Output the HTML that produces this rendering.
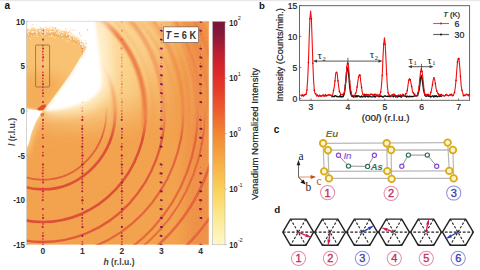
<!DOCTYPE html>
<html><head><meta charset="utf-8"><style>
html,body{margin:0;padding:0;background:#fff;width:480px;height:270px;overflow:hidden;}
svg{display:block;}
</style></head><body>
<svg width="480" height="270" viewBox="0 0 480 270">
<defs><clipPath id="hm"><rect x="26.5" y="21.3" width="182.30" height="223.50"/></clipPath><filter id="b6" x="-50%" y="-50%" width="200%" height="200%"><feGaussianBlur stdDeviation="6"/></filter><filter id="b3" x="-50%" y="-50%" width="200%" height="200%"><feGaussianBlur stdDeviation="3"/></filter><filter id="b15" x="-50%" y="-50%" width="200%" height="200%"><feGaussianBlur stdDeviation="15"/></filter><filter id="b05" x="-50%" y="-50%" width="200%" height="200%"><feGaussianBlur stdDeviation="0.5"/></filter><filter id="b15w" x="-50%" y="-50%" width="200%" height="200%"><feGaussianBlur stdDeviation="1.6"/></filter><filter id="b1" x="-50%" y="-50%" width="200%" height="200%"><feGaussianBlur stdDeviation="1"/></filter><filter id="b07" x="-50%" y="-50%" width="200%" height="200%"><feGaussianBlur stdDeviation="0.6"/></filter><linearGradient id="cb" x1="0" y1="0" x2="0" y2="1"><stop offset="0" stop-color="#781636"/><stop offset="0.06" stop-color="#881a38"/><stop offset="0.15" stop-color="#c02030"/><stop offset="0.22" stop-color="#dc2628"/><stop offset="0.3" stop-color="#e63a2a"/><stop offset="0.4" stop-color="#ee5c30"/><stop offset="0.5" stop-color="#f28634"/><stop offset="0.62" stop-color="#f6aa44"/><stop offset="0.75" stop-color="#fbd05a"/><stop offset="0.87" stop-color="#fde88e"/><stop offset="1" stop-color="#fff8cc"/></linearGradient></defs>
<g clip-path="url(#hm)">
<rect x="26.5" y="21.3" width="182.30" height="223.50" fill="#f3a24c"/>
<rect x="185" y="10" width="40" height="250" fill="#ea7c40" opacity="0.45" filter="url(#b6)"/>
<g filter="url(#b15)"><path d="M42.9,111.0 L92,10 L168,10 L156,60 L136,102 L95,118 L55,118 Z" fill="#fad088"/></g>
<g filter="url(#b6)"><path d="M44.9,111.0 L90,16 L118,16 L124,60 L114,96 L88,112 L50,114 Z" fill="#fde6b0"/></g>
<linearGradient id="gup" x1="0" y1="21" x2="0" y2="140" gradientUnits="userSpaceOnUse"><stop offset="0" stop-color="#fcd894" stop-opacity="0.92"/><stop offset="0.6" stop-color="#fbd48c" stop-opacity="0.72"/><stop offset="1" stop-color="#f8c47c" stop-opacity="0"/></linearGradient>
<linearGradient id="gupx" x1="40" y1="0" x2="209" y2="0" gradientUnits="userSpaceOnUse"><stop offset="0" stop-color="#fff"/><stop offset="0.45" stop-color="#fff"/><stop offset="0.85" stop-color="#000"/></linearGradient><mask id="mupx" maskUnits="userSpaceOnUse" x="0" y="0" width="480" height="270"><rect x="0" y="0" width="240" height="270" fill="url(#gupx)"/></mask>
<rect x="26" y="21" width="183" height="120" fill="url(#gup)" mask="url(#mupx)"/>
<g filter="url(#b3)"><path d="M43,112 L24,108 L24,160 L30,146 L34,132 L38,122 Z" fill="#fcd898"/></g>
<filter id="grain" x="0" y="0" width="100%" height="100%"><feTurbulence type="fractalNoise" baseFrequency="0.55" numOctaves="2" seed="4" result="n"/><feColorMatrix in="n" type="matrix" values="0 0 0 0 0.93  0 0 0 0 0.45  0 0 0 0 0.2  1.2 0 0 0 -0.45"/></filter>
<rect x="26.5" y="21.3" width="182.30" height="223.50" filter="url(#grain)" opacity="0.35"/>
<linearGradient id="gtop" x1="0" y1="21" x2="0" y2="245" gradientUnits="userSpaceOnUse"><stop offset="0" stop-color="#fff"/><stop offset="0.38" stop-color="#fff"/><stop offset="0.52" stop-color="#000"/></linearGradient><linearGradient id="gbot" x1="0" y1="21" x2="0" y2="245" gradientUnits="userSpaceOnUse"><stop offset="0.38" stop-color="#000"/><stop offset="0.52" stop-color="#fff"/></linearGradient><mask id="mtop" maskUnits="userSpaceOnUse" x="0" y="0" width="480" height="270"><rect x="0" y="0" width="240" height="270" fill="url(#gtop)"/></mask><mask id="mbot" maskUnits="userSpaceOnUse" x="0" y="0" width="480" height="270"><rect x="0" y="0" width="240" height="270" fill="url(#gbot)"/></mask>
<g mask="url(#mbot)"><g filter="url(#b05)">
<ellipse cx="42.9" cy="111.0" rx="63.5" ry="68.8" fill="none" stroke="#dc4c36" stroke-width="1.8" stroke-opacity="0.75"/>
<ellipse cx="42.9" cy="111.0" rx="72.5" ry="78.4" fill="none" stroke="#dc4c36" stroke-width="2.7" stroke-opacity="0.95"/>
<ellipse cx="42.9" cy="111.0" rx="103" ry="111" fill="none" stroke="#dc4c36" stroke-width="2.6" stroke-opacity="0.95"/>
<ellipse cx="42.9" cy="111.0" rx="122" ry="131" fill="none" stroke="#dc4c36" stroke-width="2.3" stroke-opacity="0.85"/>
<ellipse cx="42.9" cy="111.0" rx="140.6" ry="145.6" fill="none" stroke="#dc4c36" stroke-width="2.2" stroke-opacity="0.7"/>
<ellipse cx="42.9" cy="111.0" rx="155" ry="166" fill="none" stroke="#dc4c36" stroke-width="2.2" stroke-opacity="0.65"/>
<ellipse cx="42.9" cy="111.0" rx="162" ry="172" fill="none" stroke="#dc4c36" stroke-width="2.0" stroke-opacity="0.6"/>
<ellipse cx="42.9" cy="111.0" rx="175" ry="178" fill="none" stroke="#dc4c36" stroke-width="2.6" stroke-opacity="0.65"/>
<ellipse cx="42.9" cy="111.0" rx="200" ry="193.6" fill="none" stroke="#dc4c36" stroke-width="2.6" stroke-opacity="0.6"/>
</g></g>
<g mask="url(#mtop)"><g filter="url(#b1)">
<ellipse cx="42.9" cy="111.0" rx="72" ry="78.4" fill="none" stroke="#ec7a40" stroke-width="3.6" stroke-opacity="0.45"/>
<ellipse cx="42.9" cy="111.0" rx="102" ry="111" fill="none" stroke="#ec7a40" stroke-width="4.6" stroke-opacity="0.95"/>
<ellipse cx="42.9" cy="111.0" rx="121" ry="131" fill="none" stroke="#ec7a40" stroke-width="4.0" stroke-opacity="0.7"/>
<ellipse cx="42.9" cy="111.0" rx="140.6" ry="145.6" fill="none" stroke="#ec7a40" stroke-width="3.5" stroke-opacity="0.45"/>
<ellipse cx="42.9" cy="111.0" rx="157" ry="167.4" fill="none" stroke="#ec7a40" stroke-width="3.5" stroke-opacity="0.5"/>
<ellipse cx="42.9" cy="111.0" rx="175" ry="178" fill="none" stroke="#ec7a40" stroke-width="3.5" stroke-opacity="0.45"/>
<ellipse cx="42.9" cy="111.0" rx="188" ry="186" fill="none" stroke="#ec7a40" stroke-width="3.0" stroke-opacity="0.45"/>
<ellipse cx="42.9" cy="111.0" rx="123.1" ry="123.7" fill="none" stroke="#ea7a40" stroke-width="1.1" stroke-opacity="0.32"/>
<ellipse cx="42.9" cy="111.0" rx="213.9" ry="225.6" fill="none" stroke="#ea7a40" stroke-width="1.3" stroke-opacity="0.25"/>
<ellipse cx="42.9" cy="111.0" rx="131.0" ry="124.7" fill="none" stroke="#fbd49a" stroke-width="1.7" stroke-opacity="0.24"/>
<ellipse cx="42.9" cy="111.0" rx="120.9" ry="129.4" fill="none" stroke="#fbd49a" stroke-width="1.5" stroke-opacity="0.24"/>
<ellipse cx="42.9" cy="111.0" rx="214.5" ry="220.9" fill="none" stroke="#ea7a40" stroke-width="0.8" stroke-opacity="0.22"/>
<ellipse cx="42.9" cy="111.0" rx="159.7" ry="165.2" fill="none" stroke="#fbd49a" stroke-width="1.7" stroke-opacity="0.15"/>
<ellipse cx="42.9" cy="111.0" rx="186.5" ry="180.2" fill="none" stroke="#fbd49a" stroke-width="1.7" stroke-opacity="0.24"/>
<ellipse cx="42.9" cy="111.0" rx="165.7" ry="166.1" fill="none" stroke="#ea7a40" stroke-width="1.0" stroke-opacity="0.28"/>
<ellipse cx="42.9" cy="111.0" rx="156.7" ry="150.4" fill="none" stroke="#fbd49a" stroke-width="1.0" stroke-opacity="0.28"/>
<ellipse cx="42.9" cy="111.0" rx="193.3" ry="202.6" fill="none" stroke="#ea7a40" stroke-width="1.6" stroke-opacity="0.27"/>
<ellipse cx="42.9" cy="111.0" rx="185.3" ry="189.5" fill="none" stroke="#fbd49a" stroke-width="1.4" stroke-opacity="0.23"/>
<ellipse cx="42.9" cy="111.0" rx="142.5" ry="151.9" fill="none" stroke="#fbd49a" stroke-width="1.2" stroke-opacity="0.22"/>
<ellipse cx="42.9" cy="111.0" rx="154.6" ry="153.3" fill="none" stroke="#ea7a40" stroke-width="1.3" stroke-opacity="0.20"/>
<ellipse cx="42.9" cy="111.0" rx="196.8" ry="205.3" fill="none" stroke="#fbd49a" stroke-width="1.8" stroke-opacity="0.25"/>
<ellipse cx="42.9" cy="111.0" rx="159.1" ry="163.5" fill="none" stroke="#ea7a40" stroke-width="1.3" stroke-opacity="0.26"/>
<ellipse cx="42.9" cy="111.0" rx="140.1" ry="135.1" fill="none" stroke="#ea7a40" stroke-width="1.5" stroke-opacity="0.28"/>
<ellipse cx="42.9" cy="111.0" rx="196.7" ry="195.7" fill="none" stroke="#ea7a40" stroke-width="1.4" stroke-opacity="0.21"/>
<ellipse cx="42.9" cy="111.0" rx="116.4" ry="124.5" fill="none" stroke="#fbd49a" stroke-width="1.0" stroke-opacity="0.24"/>
<ellipse cx="42.9" cy="111.0" rx="122.6" ry="127.2" fill="none" stroke="#fbd49a" stroke-width="1.7" stroke-opacity="0.34"/>
<ellipse cx="42.9" cy="111.0" rx="149.8" ry="161.0" fill="none" stroke="#fbd49a" stroke-width="1.4" stroke-opacity="0.33"/>
<ellipse cx="42.9" cy="111.0" rx="159.0" ry="164.8" fill="none" stroke="#ea7a40" stroke-width="1.7" stroke-opacity="0.20"/>
<ellipse cx="42.9" cy="111.0" rx="166.8" ry="175.9" fill="none" stroke="#ea7a40" stroke-width="1.6" stroke-opacity="0.25"/>
<ellipse cx="42.9" cy="111.0" rx="197.1" ry="209.1" fill="none" stroke="#fbd49a" stroke-width="1.5" stroke-opacity="0.16"/>
<ellipse cx="42.9" cy="111.0" rx="132.3" ry="126.9" fill="none" stroke="#ea7a40" stroke-width="1.1" stroke-opacity="0.33"/>
<ellipse cx="42.9" cy="111.0" rx="213.2" ry="222.7" fill="none" stroke="#ea7a40" stroke-width="0.8" stroke-opacity="0.18"/>
<ellipse cx="42.9" cy="111.0" rx="176.5" ry="178.7" fill="none" stroke="#ea7a40" stroke-width="1.8" stroke-opacity="0.33"/>
<ellipse cx="42.9" cy="111.0" rx="110" ry="118" fill="none" stroke="#ec7a40" stroke-width="2.5" stroke-opacity="0.15"/>
<ellipse cx="42.9" cy="111.0" rx="130" ry="137" fill="none" stroke="#ec7a40" stroke-width="2.5" stroke-opacity="0.15"/>
<ellipse cx="42.9" cy="111.0" rx="166" ry="172" fill="none" stroke="#ec7a40" stroke-width="2.5" stroke-opacity="0.2"/>
<ellipse cx="42.9" cy="111.0" rx="198" ry="192" fill="none" stroke="#ec7a40" stroke-width="2.5" stroke-opacity="0.3"/>
</g></g>
<g filter="url(#b6)"><path d="M44,111 L57,93 L70,75 L86.5,47.5 L92,16 L106,16 Q112,50 111,80 Q107,98 90,106 Q70,112 46,112 Z" fill="#fff0d0"/></g>
<clipPath id="sec"><path d="M43.5,110.3 L26,106.7 L26,30.5 L40,29.6 L56,30 L69,32.7 L78,39 L86.5,47.5 L69.6,75 L56.6,93 Z"/></clipPath>
<g clip-path="url(#sec)">
<rect x="20" y="20" width="80" height="95" fill="#f8c272"/>
<path d="M20,118 L20,75 Q45,68 68,80 L45,114 Z" fill="#f4ae5a" filter="url(#b6)"/>
<path d="M26,33 L40,32.2 L56,32.6 L69,35.3 L78,41.6 L86.5,50 L86.5,53 L78,45 L69,38.5 L56,36 L40,35.5 L26,36.5 Z" fill="#f3aa56" opacity="0.7" filter="url(#b07)"/>
</g>
<ellipse cx="42.9" cy="244.8" rx="1.09" ry="1.15" fill="#cc2840" fill-opacity="1.0"/>
<ellipse cx="42.9" cy="241.8" rx="0.85" ry="0.90" fill="#dc3440" fill-opacity="1.0"/>
<ellipse cx="42.9" cy="238.9" rx="0.85" ry="0.90" fill="#dc3440" fill-opacity="1.0"/>
<ellipse cx="42.9" cy="235.9" rx="1.09" ry="1.15" fill="#cc2840" fill-opacity="1.0"/>
<ellipse cx="43.0" cy="232.9" rx="0.85" ry="0.90" fill="#dc3440" fill-opacity="1.0"/>
<ellipse cx="42.7" cy="227.0" rx="1.09" ry="1.15" fill="#cc2840" fill-opacity="1.0"/>
<ellipse cx="43.0" cy="224.0" rx="0.85" ry="0.90" fill="#dc3440" fill-opacity="1.0"/>
<ellipse cx="43.1" cy="218.0" rx="1.09" ry="1.15" fill="#cc2840" fill-opacity="1.0"/>
<ellipse cx="42.9" cy="215.1" rx="0.85" ry="0.90" fill="#dc3440" fill-opacity="1.0"/>
<ellipse cx="42.9" cy="209.1" rx="1.09" ry="1.15" fill="#cc2840" fill-opacity="1.0"/>
<ellipse cx="42.7" cy="200.2" rx="1.09" ry="1.15" fill="#cc2840" fill-opacity="1.0"/>
<ellipse cx="42.9" cy="197.2" rx="0.85" ry="0.90" fill="#dc3440" fill-opacity="1.0"/>
<ellipse cx="42.9" cy="194.3" rx="0.85" ry="0.90" fill="#dc3440" fill-opacity="1.0"/>
<ellipse cx="42.9" cy="191.3" rx="1.09" ry="1.15" fill="#cc2840" fill-opacity="1.0"/>
<ellipse cx="42.9" cy="188.3" rx="0.85" ry="0.90" fill="#dc3440" fill-opacity="1.0"/>
<ellipse cx="43.1" cy="182.4" rx="1.09" ry="1.15" fill="#cc2840" fill-opacity="1.0"/>
<ellipse cx="43.0" cy="179.4" rx="0.85" ry="0.90" fill="#dc3440" fill-opacity="1.0"/>
<ellipse cx="42.8" cy="176.4" rx="0.85" ry="0.90" fill="#dc3440" fill-opacity="1.0"/>
<ellipse cx="42.7" cy="173.4" rx="1.09" ry="1.15" fill="#cc2840" fill-opacity="1.0"/>
<ellipse cx="42.9" cy="170.5" rx="0.85" ry="0.90" fill="#dc3440" fill-opacity="1.0"/>
<ellipse cx="42.9" cy="167.5" rx="0.85" ry="0.90" fill="#dc3440" fill-opacity="1.0"/>
<ellipse cx="43.0" cy="164.5" rx="1.09" ry="1.15" fill="#cc2840" fill-opacity="1.0"/>
<ellipse cx="42.9" cy="155.6" rx="1.09" ry="1.15" fill="#cc2840" fill-opacity="1.0"/>
<ellipse cx="42.9" cy="152.6" rx="0.85" ry="0.90" fill="#dc3440" fill-opacity="1.0"/>
<ellipse cx="43.0" cy="146.7" rx="1.09" ry="1.15" fill="#cc2840" fill-opacity="1.0"/>
<ellipse cx="43.1" cy="137.8" rx="1.09" ry="1.15" fill="#cc2840" fill-opacity="1.0"/>
<ellipse cx="42.7" cy="134.8" rx="0.85" ry="0.90" fill="#dc3440" fill-opacity="1.0"/>
<ellipse cx="42.7" cy="128.8" rx="1.09" ry="1.15" fill="#cc2840" fill-opacity="1.0"/>
<ellipse cx="42.8" cy="125.9" rx="0.85" ry="0.90" fill="#dc3440" fill-opacity="1.0"/>
<ellipse cx="42.9" cy="122.9" rx="0.85" ry="0.90" fill="#dc3440" fill-opacity="1.0"/>
<ellipse cx="43.0" cy="119.9" rx="1.09" ry="1.15" fill="#cc2840" fill-opacity="1.0"/>
<ellipse cx="43.0" cy="102.1" rx="1.09" ry="1.15" fill="#cc2840" fill-opacity="1.0"/>
<ellipse cx="42.8" cy="96.1" rx="0.85" ry="0.90" fill="#dc3440" fill-opacity="1.0"/>
<ellipse cx="43.1" cy="93.2" rx="1.09" ry="1.15" fill="#cc2840" fill-opacity="1.0"/>
<ellipse cx="42.8" cy="90.2" rx="0.85" ry="0.90" fill="#dc3440" fill-opacity="1.0"/>
<ellipse cx="42.8" cy="87.2" rx="0.85" ry="0.90" fill="#dc3440" fill-opacity="1.0"/>
<ellipse cx="43.0" cy="84.2" rx="1.09" ry="1.15" fill="#cc2840" fill-opacity="1.0"/>
<ellipse cx="42.7" cy="81.3" rx="0.85" ry="0.90" fill="#dc3440" fill-opacity="1.0"/>
<ellipse cx="42.8" cy="78.3" rx="0.85" ry="0.90" fill="#dc3440" fill-opacity="1.0"/>
<ellipse cx="43.0" cy="75.3" rx="1.09" ry="1.15" fill="#cc2840" fill-opacity="1.0"/>
<ellipse cx="42.8" cy="72.3" rx="0.85" ry="0.90" fill="#dc3440" fill-opacity="1.0"/>
<ellipse cx="42.9" cy="66.4" rx="1.09" ry="1.15" fill="#cc2840" fill-opacity="1.0"/>
<ellipse cx="42.8" cy="60.5" rx="0.85" ry="0.90" fill="#dc3440" fill-opacity="1.0"/>
<ellipse cx="43.1" cy="57.5" rx="1.09" ry="1.15" fill="#cc2840" fill-opacity="1.0"/>
<ellipse cx="42.9" cy="54.5" rx="0.85" ry="0.90" fill="#dc3440" fill-opacity="1.0"/>
<ellipse cx="42.8" cy="51.5" rx="0.85" ry="0.90" fill="#dc3440" fill-opacity="1.0"/>
<ellipse cx="43.1" cy="48.6" rx="1.09" ry="1.15" fill="#cc2840" fill-opacity="1.0"/>
<ellipse cx="42.8" cy="45.6" rx="0.85" ry="0.90" fill="#dc3440" fill-opacity="1.0"/>
<ellipse cx="43.1" cy="39.6" rx="1.09" ry="1.15" fill="#cc2840" fill-opacity="1.0"/>
<ellipse cx="43.1" cy="33.7" rx="0.85" ry="0.90" fill="#dc3440" fill-opacity="1.0"/>
<ellipse cx="42.9" cy="30.7" rx="1.09" ry="1.15" fill="#cc2840" fill-opacity="1.0"/>
<ellipse cx="42.8" cy="21.8" rx="1.09" ry="1.15" fill="#cc2840" fill-opacity="1.0"/>
<ellipse cx="82.3" cy="244.8" rx="1.15" ry="1.21" fill="#b82448" fill-opacity="1.0"/>
<ellipse cx="82.4" cy="241.8" rx="0.87" ry="0.91" fill="#d03640" fill-opacity="1.0"/>
<ellipse cx="82.4" cy="235.9" rx="1.00" ry="1.05" fill="#9a1a4c" fill-opacity="1.0"/>
<ellipse cx="82.5" cy="227.0" rx="1.11" ry="1.17" fill="#b82448" fill-opacity="1.0"/>
<ellipse cx="82.3" cy="224.0" rx="0.83" ry="0.87" fill="#d03640" fill-opacity="1.0"/>
<ellipse cx="82.2" cy="221.0" rx="0.89" ry="0.93" fill="#d03640" fill-opacity="1.0"/>
<ellipse cx="82.3" cy="218.0" rx="0.95" ry="1.00" fill="#9a1a4c" fill-opacity="1.0"/>
<ellipse cx="82.2" cy="215.1" rx="0.80" ry="0.84" fill="#d03640" fill-opacity="1.0"/>
<ellipse cx="82.4" cy="209.1" rx="1.06" ry="1.11" fill="#9a1a4c" fill-opacity="1.0"/>
<ellipse cx="82.5" cy="203.2" rx="0.78" ry="0.82" fill="#d03640" fill-opacity="1.0"/>
<ellipse cx="82.4" cy="200.2" rx="1.23" ry="1.29" fill="#b82448" fill-opacity="1.0"/>
<ellipse cx="82.4" cy="197.2" rx="0.84" ry="0.89" fill="#d03640" fill-opacity="1.0"/>
<ellipse cx="82.2" cy="191.3" rx="0.96" ry="1.01" fill="#9a1a4c" fill-opacity="1.0"/>
<ellipse cx="82.4" cy="188.3" rx="0.89" ry="0.93" fill="#d03640" fill-opacity="1.0"/>
<ellipse cx="82.2" cy="185.3" rx="0.90" ry="0.94" fill="#d03640" fill-opacity="1.0"/>
<ellipse cx="82.3" cy="182.4" rx="1.13" ry="1.19" fill="#b82448" fill-opacity="1.0"/>
<ellipse cx="82.3" cy="179.4" rx="0.85" ry="0.90" fill="#d03640" fill-opacity="1.0"/>
<ellipse cx="82.2" cy="176.4" rx="0.90" ry="0.95" fill="#d03640" fill-opacity="1.0"/>
<ellipse cx="82.4" cy="173.4" rx="1.11" ry="1.16" fill="#b82448" fill-opacity="1.0"/>
<ellipse cx="82.4" cy="170.5" rx="0.88" ry="0.93" fill="#d03640" fill-opacity="1.0"/>
<ellipse cx="82.5" cy="167.5" rx="0.85" ry="0.89" fill="#d03640" fill-opacity="1.0"/>
<ellipse cx="82.3" cy="164.5" rx="1.21" ry="1.27" fill="#b82448" fill-opacity="1.0"/>
<ellipse cx="82.5" cy="161.5" rx="0.84" ry="0.89" fill="#d03640" fill-opacity="1.0"/>
<ellipse cx="82.3" cy="158.6" rx="0.88" ry="0.92" fill="#d03640" fill-opacity="1.0"/>
<ellipse cx="82.5" cy="155.6" rx="1.18" ry="1.24" fill="#b82448" fill-opacity="1.0"/>
<ellipse cx="82.4" cy="152.6" rx="0.82" ry="0.86" fill="#d03640" fill-opacity="1.0"/>
<ellipse cx="82.4" cy="149.7" rx="0.79" ry="0.83" fill="#d03640" fill-opacity="1.0"/>
<ellipse cx="82.2" cy="146.7" rx="1.12" ry="1.18" fill="#b82448" fill-opacity="1.0"/>
<ellipse cx="82.5" cy="143.7" rx="0.83" ry="0.88" fill="#d03640" fill-opacity="1.0"/>
<ellipse cx="82.4" cy="140.7" rx="0.88" ry="0.93" fill="#d03640" fill-opacity="1.0"/>
<ellipse cx="82.4" cy="137.8" rx="1.06" ry="1.12" fill="#9a1a4c" fill-opacity="1.0"/>
<ellipse cx="82.3" cy="134.8" rx="0.82" ry="0.87" fill="#d03640" fill-opacity="1.0"/>
<ellipse cx="82.2" cy="131.8" rx="0.87" ry="0.92" fill="#d03640" fill-opacity="1.0"/>
<ellipse cx="82.2" cy="128.8" rx="1.16" ry="1.23" fill="#b82448" fill-opacity="1.0"/>
<ellipse cx="82.3" cy="125.9" rx="0.83" ry="0.87" fill="#d03640" fill-opacity="1.0"/>
<ellipse cx="82.3" cy="119.9" rx="1.15" ry="1.21" fill="#b82448" fill-opacity="1.0"/>
<ellipse cx="82.5" cy="116.9" rx="0.83" ry="0.87" fill="#d03640" fill-opacity="1.0"/>
<ellipse cx="82.3" cy="111.0" rx="0.95" ry="1.00" fill="#e05a40" fill-opacity="0.55"/>
<ellipse cx="82.2" cy="108.0" rx="0.84" ry="0.89" fill="#e05a40" fill-opacity="0.4"/>
<ellipse cx="82.4" cy="102.1" rx="1.21" ry="1.27" fill="#e05a40" fill-opacity="0.55"/>
<ellipse cx="82.5" cy="99.1" rx="0.80" ry="0.84" fill="#e05a40" fill-opacity="0.4"/>
<ellipse cx="82.4" cy="96.1" rx="0.77" ry="0.82" fill="#e05a40" fill-opacity="0.4"/>
<ellipse cx="82.3" cy="93.2" rx="1.01" ry="1.06" fill="#e05a40" fill-opacity="0.55"/>
<ellipse cx="82.5" cy="90.2" rx="0.87" ry="0.91" fill="#e05a40" fill-opacity="0.4"/>
<ellipse cx="82.3" cy="87.2" rx="0.88" ry="0.93" fill="#e05a40" fill-opacity="0.4"/>
<ellipse cx="82.3" cy="84.2" rx="1.12" ry="1.17" fill="#e05a40" fill-opacity="0.55"/>
<ellipse cx="82.5" cy="78.3" rx="0.81" ry="0.85" fill="#e05a40" fill-opacity="0.4"/>
<ellipse cx="82.4" cy="75.3" rx="1.19" ry="1.25" fill="#e05a40" fill-opacity="0.55"/>
<ellipse cx="82.3" cy="72.3" rx="0.89" ry="0.94" fill="#e05a40" fill-opacity="0.4"/>
<ellipse cx="82.3" cy="66.4" rx="1.08" ry="1.14" fill="#e05a40" fill-opacity="0.55"/>
<ellipse cx="82.4" cy="60.5" rx="0.79" ry="0.83" fill="#e05a40" fill-opacity="0.4"/>
<ellipse cx="82.3" cy="57.5" rx="1.09" ry="1.15" fill="#e05a40" fill-opacity="0.55"/>
<ellipse cx="82.5" cy="54.5" rx="0.87" ry="0.92" fill="#e05a40" fill-opacity="0.4"/>
<ellipse cx="82.2" cy="51.5" rx="0.80" ry="0.84" fill="#e05a40" fill-opacity="0.4"/>
<ellipse cx="82.5" cy="48.6" rx="0.96" ry="1.01" fill="#e05a40" fill-opacity="0.55"/>
<ellipse cx="82.4" cy="42.6" rx="0.85" ry="0.89" fill="#e05a40" fill-opacity="0.4"/>
<ellipse cx="82.5" cy="39.6" rx="1.04" ry="1.09" fill="#e05a40" fill-opacity="0.55"/>
<ellipse cx="82.2" cy="30.7" rx="1.08" ry="1.14" fill="#e05a40" fill-opacity="0.55"/>
<ellipse cx="82.2" cy="21.8" rx="0.99" ry="1.04" fill="#e05a40" fill-opacity="0.55"/>
<ellipse cx="121.8" cy="244.8" rx="1.13" ry="1.19" fill="#b82448" fill-opacity="1.0"/>
<ellipse cx="121.9" cy="241.8" rx="0.83" ry="0.88" fill="#d03640" fill-opacity="1.0"/>
<ellipse cx="122.0" cy="238.9" rx="0.87" ry="0.91" fill="#d03640" fill-opacity="1.0"/>
<ellipse cx="121.7" cy="235.9" rx="1.15" ry="1.21" fill="#b82448" fill-opacity="1.0"/>
<ellipse cx="121.7" cy="232.9" rx="0.80" ry="0.85" fill="#d03640" fill-opacity="1.0"/>
<ellipse cx="121.9" cy="227.0" rx="1.08" ry="1.14" fill="#9a1a4c" fill-opacity="1.0"/>
<ellipse cx="121.9" cy="218.0" rx="1.05" ry="1.10" fill="#9a1a4c" fill-opacity="1.0"/>
<ellipse cx="121.8" cy="215.1" rx="0.81" ry="0.85" fill="#d03640" fill-opacity="1.0"/>
<ellipse cx="121.8" cy="212.1" rx="0.86" ry="0.90" fill="#d03640" fill-opacity="1.0"/>
<ellipse cx="122.0" cy="209.1" rx="1.18" ry="1.24" fill="#b82448" fill-opacity="1.0"/>
<ellipse cx="121.9" cy="203.2" rx="0.89" ry="0.94" fill="#d03640" fill-opacity="1.0"/>
<ellipse cx="121.8" cy="200.2" rx="0.99" ry="1.04" fill="#9a1a4c" fill-opacity="1.0"/>
<ellipse cx="122.0" cy="197.2" rx="0.83" ry="0.88" fill="#d03640" fill-opacity="1.0"/>
<ellipse cx="121.8" cy="194.3" rx="0.78" ry="0.83" fill="#d03640" fill-opacity="1.0"/>
<ellipse cx="121.9" cy="191.3" rx="1.20" ry="1.26" fill="#b82448" fill-opacity="1.0"/>
<ellipse cx="121.8" cy="188.3" rx="0.89" ry="0.94" fill="#d03640" fill-opacity="1.0"/>
<ellipse cx="121.7" cy="185.3" rx="0.84" ry="0.88" fill="#d03640" fill-opacity="1.0"/>
<ellipse cx="121.9" cy="182.4" rx="1.16" ry="1.22" fill="#b82448" fill-opacity="1.0"/>
<ellipse cx="121.9" cy="179.4" rx="0.83" ry="0.88" fill="#d03640" fill-opacity="1.0"/>
<ellipse cx="122.0" cy="173.4" rx="1.21" ry="1.27" fill="#b82448" fill-opacity="1.0"/>
<ellipse cx="121.8" cy="170.5" rx="0.90" ry="0.95" fill="#d03640" fill-opacity="1.0"/>
<ellipse cx="121.7" cy="167.5" rx="0.86" ry="0.91" fill="#d03640" fill-opacity="1.0"/>
<ellipse cx="121.9" cy="164.5" rx="1.21" ry="1.27" fill="#b82448" fill-opacity="1.0"/>
<ellipse cx="121.6" cy="161.5" rx="0.78" ry="0.82" fill="#d03640" fill-opacity="1.0"/>
<ellipse cx="121.8" cy="158.6" rx="0.80" ry="0.84" fill="#d03640" fill-opacity="1.0"/>
<ellipse cx="121.8" cy="155.6" rx="1.17" ry="1.23" fill="#b82448" fill-opacity="1.0"/>
<ellipse cx="121.6" cy="149.7" rx="0.87" ry="0.91" fill="#d03640" fill-opacity="1.0"/>
<ellipse cx="121.7" cy="146.7" rx="1.18" ry="1.24" fill="#b82448" fill-opacity="1.0"/>
<ellipse cx="121.9" cy="143.7" rx="0.78" ry="0.82" fill="#d03640" fill-opacity="1.0"/>
<ellipse cx="121.8" cy="137.8" rx="0.99" ry="1.04" fill="#9a1a4c" fill-opacity="1.0"/>
<ellipse cx="121.9" cy="134.8" rx="0.85" ry="0.89" fill="#d03640" fill-opacity="1.0"/>
<ellipse cx="122.0" cy="131.8" rx="0.84" ry="0.89" fill="#d03640" fill-opacity="1.0"/>
<ellipse cx="122.0" cy="128.8" rx="1.09" ry="1.15" fill="#9a1a4c" fill-opacity="1.0"/>
<ellipse cx="121.7" cy="119.9" rx="1.10" ry="1.16" fill="#b82448" fill-opacity="1.0"/>
<ellipse cx="121.9" cy="116.9" rx="0.85" ry="0.90" fill="#d03640" fill-opacity="1.0"/>
<ellipse cx="121.9" cy="114.0" rx="0.81" ry="0.85" fill="#d03640" fill-opacity="1.0"/>
<ellipse cx="121.7" cy="111.0" rx="1.11" ry="1.17" fill="#e05a40" fill-opacity="0.55"/>
<ellipse cx="121.9" cy="108.0" rx="0.78" ry="0.83" fill="#e05a40" fill-opacity="0.4"/>
<ellipse cx="121.7" cy="105.1" rx="0.88" ry="0.93" fill="#e05a40" fill-opacity="0.4"/>
<ellipse cx="122.0" cy="102.1" rx="1.19" ry="1.26" fill="#e05a40" fill-opacity="0.55"/>
<ellipse cx="121.8" cy="99.1" rx="0.81" ry="0.85" fill="#e05a40" fill-opacity="0.4"/>
<ellipse cx="121.8" cy="93.2" rx="1.10" ry="1.16" fill="#e05a40" fill-opacity="0.55"/>
<ellipse cx="121.6" cy="90.2" rx="0.83" ry="0.87" fill="#e05a40" fill-opacity="0.4"/>
<ellipse cx="121.8" cy="87.2" rx="0.90" ry="0.94" fill="#e05a40" fill-opacity="0.4"/>
<ellipse cx="121.9" cy="84.2" rx="1.06" ry="1.12" fill="#e05a40" fill-opacity="0.55"/>
<ellipse cx="121.8" cy="81.3" rx="0.82" ry="0.86" fill="#e05a40" fill-opacity="0.4"/>
<ellipse cx="121.6" cy="78.3" rx="0.84" ry="0.89" fill="#e05a40" fill-opacity="0.4"/>
<ellipse cx="121.8" cy="75.3" rx="1.10" ry="1.16" fill="#e05a40" fill-opacity="0.55"/>
<ellipse cx="122.0" cy="72.3" rx="0.89" ry="0.94" fill="#e05a40" fill-opacity="0.4"/>
<ellipse cx="121.7" cy="66.4" rx="1.08" ry="1.14" fill="#e05a40" fill-opacity="0.55"/>
<ellipse cx="121.9" cy="63.4" rx="0.79" ry="0.84" fill="#e05a40" fill-opacity="0.4"/>
<ellipse cx="121.8" cy="60.5" rx="0.88" ry="0.93" fill="#e05a40" fill-opacity="0.4"/>
<ellipse cx="121.7" cy="57.5" rx="1.04" ry="1.10" fill="#e05a40" fill-opacity="0.55"/>
<ellipse cx="122.0" cy="54.5" rx="0.83" ry="0.87" fill="#e05a40" fill-opacity="0.4"/>
<ellipse cx="121.6" cy="48.6" rx="1.17" ry="1.23" fill="#e05a40" fill-opacity="0.55"/>
<ellipse cx="121.7" cy="39.6" rx="1.15" ry="1.21" fill="#e05a40" fill-opacity="0.55"/>
<ellipse cx="121.9" cy="30.7" rx="0.98" ry="1.03" fill="#e05a40" fill-opacity="0.55"/>
<ellipse cx="121.7" cy="21.8" rx="1.02" ry="1.08" fill="#e05a40" fill-opacity="0.55"/>
<ellipse cx="161.2" cy="244.8" rx="1.57" ry="0.99" fill="#6e1850" fill-opacity="1.0" transform="rotate(15 161.2 244.8)"/>
<ellipse cx="161.1" cy="235.9" rx="1.57" ry="0.99" fill="#6e1850" fill-opacity="1.0" transform="rotate(15 161.1 235.9)"/>
<ellipse cx="161.3" cy="229.9" rx="0.57" ry="0.60" fill="#d04040" fill-opacity="0.6"/>
<ellipse cx="161.4" cy="227.0" rx="1.57" ry="0.99" fill="#6e1850" fill-opacity="1.0" transform="rotate(15 161.4 227.0)"/>
<ellipse cx="161.4" cy="224.0" rx="0.57" ry="0.60" fill="#d04040" fill-opacity="0.6"/>
<ellipse cx="161.4" cy="218.0" rx="1.68" ry="1.06" fill="#9a1c4c" fill-opacity="1.0" transform="rotate(15 161.4 218.0)"/>
<ellipse cx="161.2" cy="215.1" rx="0.57" ry="0.60" fill="#d04040" fill-opacity="0.6"/>
<ellipse cx="161.1" cy="209.1" rx="1.78" ry="1.12" fill="#9a1c4c" fill-opacity="1.0" transform="rotate(15 161.1 209.1)"/>
<ellipse cx="161.4" cy="206.1" rx="0.57" ry="0.60" fill="#d04040" fill-opacity="0.6"/>
<ellipse cx="161.3" cy="200.2" rx="1.41" ry="0.89" fill="#6e1850" fill-opacity="1.0" transform="rotate(15 161.3 200.2)"/>
<ellipse cx="161.2" cy="191.3" rx="1.73" ry="1.09" fill="#9a1c4c" fill-opacity="1.0" transform="rotate(15 161.2 191.3)"/>
<ellipse cx="161.1" cy="188.3" rx="0.57" ry="0.60" fill="#d04040" fill-opacity="0.6"/>
<ellipse cx="161.1" cy="182.4" rx="1.65" ry="1.04" fill="#9a1c4c" fill-opacity="1.0" transform="rotate(15 161.1 182.4)"/>
<ellipse cx="161.4" cy="176.4" rx="0.57" ry="0.60" fill="#d04040" fill-opacity="0.6"/>
<ellipse cx="161.1" cy="173.4" rx="1.81" ry="1.14" fill="#9a1c4c" fill-opacity="1.0" transform="rotate(15 161.1 173.4)"/>
<ellipse cx="161.3" cy="167.5" rx="0.57" ry="0.60" fill="#d04040" fill-opacity="0.6"/>
<ellipse cx="161.1" cy="164.5" rx="1.65" ry="1.04" fill="#9a1c4c" fill-opacity="1.0" transform="rotate(15 161.1 164.5)"/>
<ellipse cx="161.1" cy="146.7" rx="1.59" ry="1.00" fill="#6e1850" fill-opacity="1.0" transform="rotate(15 161.1 146.7)"/>
<ellipse cx="161.4" cy="137.8" rx="1.74" ry="1.09" fill="#9a1c4c" fill-opacity="1.0" transform="rotate(15 161.4 137.8)"/>
<ellipse cx="161.1" cy="134.8" rx="0.57" ry="0.60" fill="#d04040" fill-opacity="0.6"/>
<ellipse cx="161.2" cy="128.8" rx="1.80" ry="1.13" fill="#9a1c4c" fill-opacity="1.0" transform="rotate(15 161.2 128.8)"/>
<ellipse cx="161.2" cy="125.9" rx="0.57" ry="0.60" fill="#d04040" fill-opacity="0.6"/>
<ellipse cx="161.2" cy="119.9" rx="1.56" ry="0.98" fill="#6e1850" fill-opacity="1.0" transform="rotate(15 161.2 119.9)"/>
<ellipse cx="161.1" cy="116.9" rx="0.57" ry="0.60" fill="#d04040" fill-opacity="0.6"/>
<ellipse cx="161.4" cy="114.0" rx="0.57" ry="0.60" fill="#d04040" fill-opacity="0.6"/>
<ellipse cx="161.2" cy="111.0" rx="1.38" ry="0.87" fill="#6e1850" fill-opacity="1.0" transform="rotate(15 161.2 111.0)"/>
<ellipse cx="161.2" cy="108.0" rx="0.57" ry="0.60" fill="#d04040" fill-opacity="0.6"/>
<ellipse cx="161.3" cy="102.1" rx="1.37" ry="0.86" fill="#6e1850" fill-opacity="1.0" transform="rotate(15 161.3 102.1)"/>
<ellipse cx="161.4" cy="96.1" rx="0.57" ry="0.60" fill="#d04040" fill-opacity="0.6"/>
<ellipse cx="161.4" cy="93.2" rx="1.66" ry="1.05" fill="#9a1c4c" fill-opacity="1.0" transform="rotate(15 161.4 93.2)"/>
<ellipse cx="161.2" cy="90.2" rx="0.57" ry="0.60" fill="#d04040" fill-opacity="0.6"/>
<ellipse cx="161.4" cy="84.2" rx="1.55" ry="0.98" fill="#6e1850" fill-opacity="1.0" transform="rotate(15 161.4 84.2)"/>
<ellipse cx="161.2" cy="81.3" rx="0.57" ry="0.60" fill="#d04040" fill-opacity="0.6"/>
<ellipse cx="161.3" cy="78.3" rx="0.57" ry="0.60" fill="#d04040" fill-opacity="0.6"/>
<ellipse cx="161.4" cy="75.3" rx="1.70" ry="1.07" fill="#9a1c4c" fill-opacity="1.0" transform="rotate(15 161.4 75.3)"/>
<ellipse cx="161.4" cy="69.4" rx="0.57" ry="0.60" fill="#d04040" fill-opacity="0.6"/>
<ellipse cx="161.4" cy="66.4" rx="1.66" ry="1.04" fill="#9a1c4c" fill-opacity="1.0" transform="rotate(15 161.4 66.4)"/>
<ellipse cx="161.2" cy="63.4" rx="0.57" ry="0.60" fill="#d04040" fill-opacity="0.6"/>
<ellipse cx="161.1" cy="60.5" rx="0.57" ry="0.60" fill="#d04040" fill-opacity="0.6"/>
<ellipse cx="161.2" cy="57.5" rx="1.47" ry="0.92" fill="#6e1850" fill-opacity="1.0" transform="rotate(15 161.2 57.5)"/>
<ellipse cx="161.3" cy="48.6" rx="1.63" ry="1.02" fill="#9a1c4c" fill-opacity="1.0" transform="rotate(15 161.3 48.6)"/>
<ellipse cx="161.3" cy="42.6" rx="0.57" ry="0.60" fill="#d04040" fill-opacity="0.6"/>
<ellipse cx="161.3" cy="39.6" rx="1.46" ry="0.92" fill="#6e1850" fill-opacity="1.0" transform="rotate(15 161.3 39.6)"/>
<ellipse cx="161.4" cy="30.7" rx="1.49" ry="0.94" fill="#6e1850" fill-opacity="1.0" transform="rotate(15 161.4 30.7)"/>
<ellipse cx="161.3" cy="27.7" rx="0.57" ry="0.60" fill="#d04040" fill-opacity="0.6"/>
<ellipse cx="161.4" cy="24.8" rx="0.57" ry="0.60" fill="#d04040" fill-opacity="0.6"/>
<ellipse cx="200.8" cy="244.8" rx="1.61" ry="1.02" fill="#9a1c4c" fill-opacity="1.0" transform="rotate(15 200.8 244.8)"/>
<ellipse cx="200.7" cy="221.0" rx="0.57" ry="0.60" fill="#d04040" fill-opacity="0.6"/>
<ellipse cx="200.9" cy="218.0" rx="1.56" ry="0.98" fill="#6e1850" fill-opacity="1.0" transform="rotate(15 200.9 218.0)"/>
<ellipse cx="200.8" cy="212.1" rx="0.57" ry="0.60" fill="#d04040" fill-opacity="0.6"/>
<ellipse cx="200.5" cy="209.1" rx="1.72" ry="1.08" fill="#9a1c4c" fill-opacity="1.0" transform="rotate(15 200.5 209.1)"/>
<ellipse cx="200.5" cy="203.2" rx="0.57" ry="0.60" fill="#d04040" fill-opacity="0.6"/>
<ellipse cx="200.6" cy="200.2" rx="1.78" ry="1.12" fill="#9a1c4c" fill-opacity="1.0" transform="rotate(15 200.6 200.2)"/>
<ellipse cx="200.7" cy="191.3" rx="1.55" ry="0.98" fill="#6e1850" fill-opacity="1.0" transform="rotate(15 200.7 191.3)"/>
<ellipse cx="200.7" cy="185.3" rx="0.57" ry="0.60" fill="#d04040" fill-opacity="0.6"/>
<ellipse cx="200.7" cy="182.4" rx="1.57" ry="0.99" fill="#6e1850" fill-opacity="1.0" transform="rotate(15 200.7 182.4)"/>
<ellipse cx="200.7" cy="173.4" rx="1.64" ry="1.03" fill="#9a1c4c" fill-opacity="1.0" transform="rotate(15 200.7 173.4)"/>
<ellipse cx="200.6" cy="167.5" rx="0.57" ry="0.60" fill="#d04040" fill-opacity="0.6"/>
<ellipse cx="200.8" cy="155.6" rx="1.37" ry="0.86" fill="#6e1850" fill-opacity="1.0" transform="rotate(15 200.8 155.6)"/>
<ellipse cx="200.8" cy="149.7" rx="0.57" ry="0.60" fill="#d04040" fill-opacity="0.6"/>
<ellipse cx="200.9" cy="143.7" rx="0.57" ry="0.60" fill="#d04040" fill-opacity="0.6"/>
<ellipse cx="200.7" cy="137.8" rx="1.77" ry="1.12" fill="#9a1c4c" fill-opacity="1.0" transform="rotate(15 200.7 137.8)"/>
<ellipse cx="200.6" cy="131.8" rx="0.57" ry="0.60" fill="#d04040" fill-opacity="0.6"/>
<ellipse cx="200.9" cy="128.8" rx="1.57" ry="0.99" fill="#6e1850" fill-opacity="1.0" transform="rotate(15 200.9 128.8)"/>
<ellipse cx="200.7" cy="125.9" rx="0.57" ry="0.60" fill="#d04040" fill-opacity="0.6"/>
<ellipse cx="200.8" cy="122.9" rx="0.57" ry="0.60" fill="#d04040" fill-opacity="0.6"/>
<ellipse cx="200.5" cy="119.9" rx="1.61" ry="1.01" fill="#9a1c4c" fill-opacity="1.0" transform="rotate(15 200.5 119.9)"/>
<ellipse cx="200.7" cy="116.9" rx="0.57" ry="0.60" fill="#d04040" fill-opacity="0.6"/>
<ellipse cx="200.8" cy="102.1" rx="1.52" ry="0.96" fill="#6e1850" fill-opacity="1.0" transform="rotate(15 200.8 102.1)"/>
<ellipse cx="200.7" cy="93.2" rx="1.60" ry="1.01" fill="#6e1850" fill-opacity="1.0" transform="rotate(15 200.7 93.2)"/>
<ellipse cx="200.7" cy="90.2" rx="0.57" ry="0.60" fill="#d04040" fill-opacity="0.6"/>
<ellipse cx="200.9" cy="87.2" rx="0.57" ry="0.60" fill="#d04040" fill-opacity="0.6"/>
<ellipse cx="200.6" cy="84.2" rx="1.68" ry="1.06" fill="#9a1c4c" fill-opacity="1.0" transform="rotate(15 200.6 84.2)"/>
<ellipse cx="200.8" cy="78.3" rx="0.57" ry="0.60" fill="#d04040" fill-opacity="0.6"/>
<ellipse cx="200.6" cy="75.3" rx="1.62" ry="1.02" fill="#9a1c4c" fill-opacity="1.0" transform="rotate(15 200.6 75.3)"/>
<ellipse cx="200.7" cy="69.4" rx="0.57" ry="0.60" fill="#d04040" fill-opacity="0.6"/>
<ellipse cx="200.8" cy="66.4" rx="1.60" ry="1.01" fill="#6e1850" fill-opacity="1.0" transform="rotate(15 200.8 66.4)"/>
<ellipse cx="200.6" cy="63.4" rx="0.57" ry="0.60" fill="#d04040" fill-opacity="0.6"/>
<ellipse cx="200.9" cy="57.5" rx="1.81" ry="1.14" fill="#9a1c4c" fill-opacity="1.0" transform="rotate(15 200.9 57.5)"/>
<ellipse cx="200.5" cy="54.5" rx="0.57" ry="0.60" fill="#d04040" fill-opacity="0.6"/>
<ellipse cx="200.7" cy="48.6" rx="1.43" ry="0.90" fill="#6e1850" fill-opacity="1.0" transform="rotate(15 200.7 48.6)"/>
<ellipse cx="200.5" cy="45.6" rx="0.57" ry="0.60" fill="#d04040" fill-opacity="0.6"/>
<ellipse cx="200.7" cy="33.7" rx="0.57" ry="0.60" fill="#d04040" fill-opacity="0.6"/>
<ellipse cx="200.6" cy="30.7" rx="1.62" ry="1.02" fill="#9a1c4c" fill-opacity="1.0" transform="rotate(15 200.6 30.7)"/>
<ellipse cx="200.8" cy="21.8" rx="1.47" ry="0.92" fill="#6e1850" fill-opacity="1.0" transform="rotate(15 200.8 21.8)"/>
<clipPath id="nsec"><path clip-rule="evenodd" d="M0,0 L480,0 L480,270 L0,270 Z M43.5,110.3 L26,106.7 L26,30.5 L40,29.6 L56,30 L69,32.7 L78,39 L86.5,47.5 L69.6,75 L56.6,93 Z"/></clipPath>
<g clip-path="url(#nsec)"><g filter="url(#b15w)"><path d="M44.5,110.5 L57.5,93 L70.5,75 L86.5,47.5 L78,39 L69,32.7 L56,30 L40,29.6 L26,30.5 L26,18 L95,18 Q99,50 101.5,75 L101.5,86 L98,93 L90,99.5 L80,104 L70,107.3 L60,109.5 L46,111 Z" fill="#ffffff"/></g></g>
<g filter="url(#b07)"><path d="M42.5,111.2 L24,108.2 L24,154 L28.6,144 L31.8,132 L35.8,122 L41,113.6 Z" fill="#ffffff"/></g>
<rect x="40.8" y="28.3" width="0.9" height="0.9" fill="#f6b462" opacity="0.7"/>
<rect x="82.8" y="42.7" width="1.1" height="1.1" fill="#f6b462" opacity="0.7"/>
<rect x="30.1" y="30.2" width="0.9" height="0.9" fill="#f6b462" opacity="0.7"/>
<rect x="42.1" y="29.2" width="1.1" height="1.1" fill="#f6b462" opacity="0.7"/>
<rect x="55.2" y="27.0" width="0.9" height="0.9" fill="#f6b462" opacity="0.7"/>
<rect x="50.6" y="26.6" width="0.7" height="0.7" fill="#f6b462" opacity="0.7"/>
<rect x="65.4" y="28.6" width="1.1" height="1.1" fill="#f6b462" opacity="0.7"/>
<rect x="50.2" y="29.8" width="0.7" height="0.7" fill="#f6b462" opacity="0.7"/>
<rect x="35.9" y="24.6" width="0.7" height="0.7" fill="#f6b462" opacity="0.7"/>
<rect x="44.7" y="29.7" width="0.9" height="0.9" fill="#f6b462" opacity="0.7"/>
<rect x="55.3" y="27.9" width="0.9" height="0.9" fill="#f6b462" opacity="0.7"/>
<rect x="70.3" y="29.4" width="0.9" height="0.9" fill="#f6b462" opacity="0.7"/>
<rect x="71.1" y="32.8" width="0.7" height="0.7" fill="#f6b462" opacity="0.7"/>
<rect x="80.5" y="41.3" width="0.7" height="0.7" fill="#f6b462" opacity="0.7"/>
<rect x="56.7" y="29.6" width="1.1" height="1.1" fill="#f6b462" opacity="0.7"/>
<rect x="53.0" y="28.3" width="0.9" height="0.9" fill="#f6b462" opacity="0.7"/>
<rect x="52.1" y="26.9" width="1.1" height="1.1" fill="#f6b462" opacity="0.7"/>
<rect x="47.8" y="28.3" width="1.1" height="1.1" fill="#f6b462" opacity="0.7"/>
<rect x="40.4" y="28.9" width="0.7" height="0.7" fill="#f6b462" opacity="0.7"/>
<rect x="79.1" y="32.2" width="1.1" height="1.1" fill="#f6b462" opacity="0.7"/>
<rect x="69.1" y="30.8" width="0.9" height="0.9" fill="#f6b462" opacity="0.7"/>
<rect x="85.8" y="42.9" width="1.1" height="1.1" fill="#f6b462" opacity="0.7"/>
<rect x="32.5" y="28.3" width="1.1" height="1.1" fill="#f6b462" opacity="0.7"/>
<rect x="77.6" y="37.3" width="0.9" height="0.9" fill="#f6b462" opacity="0.7"/>
<rect x="33.7" y="28.9" width="1.1" height="1.1" fill="#f6b462" opacity="0.7"/>
<rect x="87.4" y="29.8" width="0.7" height="0.7" fill="#f6b462" opacity="0.7"/>
<rect x="51.4" y="29.6" width="0.9" height="0.9" fill="#f6b462" opacity="0.7"/>
<rect x="52.5" y="29.0" width="0.7" height="0.7" fill="#f6b462" opacity="0.7"/>
<rect x="28.7" y="28.7" width="0.7" height="0.7" fill="#f6b462" opacity="0.7"/>
<rect x="49.4" y="28.4" width="1.1" height="1.1" fill="#f6b462" opacity="0.7"/>
<rect x="80.6" y="35.0" width="1.1" height="1.1" fill="#f6b462" opacity="0.7"/>
<rect x="40.6" y="29.6" width="0.7" height="0.7" fill="#f6b462" opacity="0.7"/>
<rect x="30.8" y="28.7" width="0.7" height="0.7" fill="#f6b462" opacity="0.7"/>
<rect x="84.8" y="39.9" width="0.9" height="0.9" fill="#f6b462" opacity="0.7"/>
<rect x="63.8" y="31.3" width="0.7" height="0.7" fill="#f6b462" opacity="0.7"/>
<rect x="86.8" y="29.3" width="0.9" height="0.9" fill="#f6b462" opacity="0.7"/>
<rect x="85.4" y="42.7" width="0.9" height="0.9" fill="#f6b462" opacity="0.7"/>
<rect x="49.4" y="26.4" width="0.9" height="0.9" fill="#f6b462" opacity="0.7"/>
<rect x="65.9" y="30.6" width="1.1" height="1.1" fill="#f6b462" opacity="0.7"/>
<rect x="32.4" y="24.1" width="1.1" height="1.1" fill="#f6b462" opacity="0.7"/>
<rect x="42.8" y="28.0" width="1.1" height="1.1" fill="#f6b462" opacity="0.7"/>
<rect x="40.7" y="29.0" width="0.9" height="0.9" fill="#f6b462" opacity="0.7"/>
<rect x="58.3" y="29.2" width="0.7" height="0.7" fill="#f6b462" opacity="0.7"/>
<rect x="74.9" y="29.5" width="0.9" height="0.9" fill="#f6b462" opacity="0.7"/>
<rect x="27.2" y="28.8" width="1.1" height="1.1" fill="#f6b462" opacity="0.7"/>
<rect x="34.3" y="28.3" width="0.9" height="0.9" fill="#f6b462" opacity="0.7"/>
<rect x="54.9" y="28.1" width="0.9" height="0.9" fill="#f6b462" opacity="0.7"/>
<rect x="63.7" y="31.1" width="0.9" height="0.9" fill="#f6b462" opacity="0.7"/>
<rect x="27.4" y="30.3" width="1.1" height="1.1" fill="#f6b462" opacity="0.7"/>
<rect x="27.3" y="29.6" width="1.1" height="1.1" fill="#f6b462" opacity="0.7"/>
<rect x="54.3" y="28.5" width="0.9" height="0.9" fill="#f6b462" opacity="0.7"/>
<rect x="37.0" y="29.5" width="0.9" height="0.9" fill="#f6b462" opacity="0.7"/>
<rect x="78.3" y="38.8" width="0.9" height="0.9" fill="#f6b462" opacity="0.7"/>
<rect x="32.5" y="27.3" width="1.1" height="1.1" fill="#f6b462" opacity="0.7"/>
<rect x="68.4" y="32.3" width="1.1" height="1.1" fill="#f6b462" opacity="0.7"/>
<rect x="39.8" y="26.9" width="0.7" height="0.7" fill="#f6b462" opacity="0.7"/>
<rect x="46.3" y="27.9" width="1.1" height="1.1" fill="#f6b462" opacity="0.7"/>
<rect x="69.3" y="32.7" width="0.9" height="0.9" fill="#f6b462" opacity="0.7"/>
<rect x="84.8" y="44.0" width="0.7" height="0.7" fill="#f6b462" opacity="0.7"/>
<rect x="53.2" y="26.7" width="0.7" height="0.7" fill="#f6b462" opacity="0.7"/>
<rect x="31.0" y="27.9" width="0.7" height="0.7" fill="#f6b462" opacity="0.7"/>
<rect x="80.9" y="40.9" width="0.7" height="0.7" fill="#f6b462" opacity="0.7"/>
<rect x="74.8" y="36.7" width="0.7" height="0.7" fill="#f6b462" opacity="0.7"/>
<rect x="45.5" y="26.7" width="1.1" height="1.1" fill="#f6b462" opacity="0.7"/>
<rect x="37.4" y="29.2" width="1.1" height="1.1" fill="#f6b462" opacity="0.7"/>
<rect x="31.3" y="28.5" width="1.1" height="1.1" fill="#f6b462" opacity="0.7"/>
<rect x="34.0" y="29.4" width="0.9" height="0.9" fill="#f6b462" opacity="0.7"/>
<rect x="54.8" y="28.3" width="0.9" height="0.9" fill="#f6b462" opacity="0.7"/>
<rect x="52.0" y="29.0" width="0.9" height="0.9" fill="#f6b462" opacity="0.7"/>
<rect x="35.7" y="29.9" width="1.1" height="1.1" fill="#f6b462" opacity="0.7"/>
<rect x="87.2" y="29.1" width="1.1" height="1.1" fill="#f6b462" opacity="0.7"/>
<rect x="39.8" y="27.3" width="1.1" height="1.1" fill="#f6b462" opacity="0.7"/>
<rect x="72.4" y="29.6" width="1.1" height="1.1" fill="#f6b462" opacity="0.7"/>
<rect x="47.1" y="29.3" width="0.7" height="0.7" fill="#f6b462" opacity="0.7"/>
<rect x="79.2" y="34.3" width="0.7" height="0.7" fill="#f6b462" opacity="0.7"/>
<rect x="74.6" y="37.5" width="1" height="1" fill="#fff" opacity="0.7"/>
<rect x="67.6" y="40.7" width="1" height="1" fill="#fff" opacity="0.7"/>
<rect x="80.0" y="41.1" width="1" height="1" fill="#fff" opacity="0.7"/>
<rect x="70.7" y="34.5" width="1" height="1" fill="#fff" opacity="0.7"/>
<rect x="65.8" y="34.3" width="1" height="1" fill="#fff" opacity="0.7"/>
<rect x="82.3" y="45.5" width="1" height="1" fill="#fff" opacity="0.7"/>
<rect x="41.1" y="33.8" width="1" height="1" fill="#fff" opacity="0.7"/>
<rect x="72.9" y="36.2" width="1" height="1" fill="#fff" opacity="0.7"/>
<rect x="58.1" y="31.8" width="1" height="1" fill="#fff" opacity="0.7"/>
<rect x="73.5" y="43.3" width="1" height="1" fill="#fff" opacity="0.7"/>
<rect x="75.4" y="37.5" width="1" height="1" fill="#fff" opacity="0.7"/>
<rect x="77.8" y="39.1" width="1" height="1" fill="#fff" opacity="0.7"/>
<rect x="42.1" y="32.0" width="1" height="1" fill="#fff" opacity="0.7"/>
<rect x="54.4" y="30.0" width="1" height="1" fill="#fff" opacity="0.7"/>
<rect x="29.3" y="30.5" width="1" height="1" fill="#fff" opacity="0.7"/>
<rect x="30.1" y="38.6" width="1" height="1" fill="#fff" opacity="0.7"/>
<rect x="31.2" y="31.8" width="1" height="1" fill="#fff" opacity="0.7"/>
<rect x="44.9" y="32.2" width="1" height="1" fill="#fff" opacity="0.7"/>
<rect x="61.2" y="31.8" width="1" height="1" fill="#fff" opacity="0.7"/>
<rect x="45.7" y="30.7" width="1" height="1" fill="#fff" opacity="0.7"/>
<rect x="69.0" y="33.0" width="1" height="1" fill="#fff" opacity="0.7"/>
<rect x="36.7" y="32.3" width="1" height="1" fill="#fff" opacity="0.7"/>
<rect x="73.0" y="38.8" width="1" height="1" fill="#fff" opacity="0.7"/>
<rect x="63.4" y="33.2" width="1" height="1" fill="#fff" opacity="0.7"/>
<rect x="55.8" y="33.0" width="1" height="1" fill="#fff" opacity="0.7"/>
<rect x="67.6" y="33.6" width="1" height="1" fill="#fff" opacity="0.7"/>
<rect x="58.2" y="31.0" width="1" height="1" fill="#fff" opacity="0.7"/>
<rect x="51.5" y="33.9" width="1" height="1" fill="#fff" opacity="0.7"/>
<rect x="82.2" y="46.8" width="1" height="1" fill="#fff" opacity="0.7"/>
<rect x="73.5" y="37.2" width="1" height="1" fill="#fff" opacity="0.7"/>
<rect x="33.4" y="35.5" width="1" height="1" fill="#fff" opacity="0.7"/>
<rect x="79.2" y="45.6" width="1" height="1" fill="#fff" opacity="0.7"/>
<rect x="70.0" y="34.0" width="1" height="1" fill="#fff" opacity="0.7"/>
<rect x="61.3" y="31.2" width="1" height="1" fill="#fff" opacity="0.7"/>
<rect x="72.5" y="35.2" width="1" height="1" fill="#fff" opacity="0.7"/>
<rect x="32.0" y="31.7" width="1" height="1" fill="#fff" opacity="0.7"/>
<rect x="27.4" y="31.4" width="1" height="1" fill="#fff" opacity="0.7"/>
<rect x="76.6" y="43.8" width="1" height="1" fill="#fff" opacity="0.7"/>
<rect x="83.1" y="48.9" width="1" height="1" fill="#fff" opacity="0.7"/>
<rect x="28.2" y="34.3" width="1" height="1" fill="#fff" opacity="0.7"/>
<rect x="68.9" y="33.8" width="1" height="1" fill="#fff" opacity="0.7"/>
<rect x="82.1" y="43.4" width="1" height="1" fill="#fff" opacity="0.7"/>
<rect x="59.8" y="32.8" width="1" height="1" fill="#fff" opacity="0.7"/>
<rect x="36.8" y="31.6" width="1" height="1" fill="#fff" opacity="0.7"/>
<rect x="71.2" y="35.8" width="1" height="1" fill="#fff" opacity="0.7"/>
<rect x="49.8" y="31.4" width="1" height="1" fill="#fff" opacity="0.7"/>
<rect x="31.0" y="35.3" width="1" height="1" fill="#fff" opacity="0.7"/>
<rect x="50.8" y="31.1" width="1" height="1" fill="#fff" opacity="0.7"/>
<rect x="67.5" y="37.6" width="1" height="1" fill="#fff" opacity="0.7"/>
<rect x="57.0" y="33.5" width="1" height="1" fill="#fff" opacity="0.7"/>
<rect x="79.8" y="41.0" width="1" height="1" fill="#fff" opacity="0.7"/>
<rect x="70.9" y="38.8" width="1" height="1" fill="#fff" opacity="0.7"/>
<rect x="52.6" y="31.3" width="1" height="1" fill="#fff" opacity="0.7"/>
<rect x="42.0" y="31.1" width="1" height="1" fill="#fff" opacity="0.7"/>
<rect x="44.9" y="31.6" width="1" height="1" fill="#fff" opacity="0.7"/>
<rect x="83.2" y="46.5" width="1" height="1" fill="#fff" opacity="0.7"/>
<rect x="50.8" y="34.9" width="1" height="1" fill="#fff" opacity="0.7"/>
<rect x="42.0" y="29.7" width="1" height="1" fill="#fff" opacity="0.7"/>
<rect x="54.8" y="30.7" width="1" height="1" fill="#fff" opacity="0.7"/>
<rect x="47.6" y="32.5" width="1" height="1" fill="#fff" opacity="0.7"/>
<rect x="34.6" y="34.7" width="1" height="1" fill="#fff" opacity="0.7"/>
<rect x="61.9" y="35.4" width="1" height="1" fill="#fff" opacity="0.7"/>
<rect x="75.3" y="39.9" width="1" height="1" fill="#fff" opacity="0.7"/>
<rect x="69.2" y="36.3" width="1" height="1" fill="#fff" opacity="0.7"/>
<rect x="70.0" y="37.9" width="1" height="1" fill="#fff" opacity="0.7"/>
<rect x="39.8" y="31.6" width="1" height="1" fill="#fff" opacity="0.7"/>
<rect x="66.5" y="40.4" width="1" height="1" fill="#fff" opacity="0.7"/>
<rect x="40.5" y="30.2" width="1" height="1" fill="#fff" opacity="0.7"/>
<rect x="37.2" y="36.0" width="1" height="1" fill="#fff" opacity="0.7"/>
<rect x="80.0" y="43.5" width="1" height="1" fill="#fff" opacity="0.7"/>
<rect x="44.8" y="33.0" width="1" height="1" fill="#fff" opacity="0.7"/>
<rect x="31.2" y="31.3" width="1" height="1" fill="#fff" opacity="0.7"/>
<rect x="43.5" y="31.9" width="1" height="1" fill="#fff" opacity="0.7"/>
<rect x="66.5" y="32.4" width="1" height="1" fill="#fff" opacity="0.7"/>
<rect x="52.2" y="31.0" width="1" height="1" fill="#fff" opacity="0.7"/>
<rect x="61.1" y="34.8" width="1" height="1" fill="#fff" opacity="0.7"/>
<rect x="58.7" y="31.0" width="1" height="1" fill="#fff" opacity="0.7"/>
<rect x="65.9" y="33.5" width="1" height="1" fill="#fff" opacity="0.7"/>
<rect x="80.5" y="42.9" width="1" height="1" fill="#fff" opacity="0.7"/>
<rect x="48.5" y="35.7" width="1" height="1" fill="#fff" opacity="0.7"/>
<rect x="43.7" y="34.2" width="1" height="1" fill="#fff" opacity="0.7"/>
<rect x="74.4" y="38.7" width="1" height="1" fill="#fff" opacity="0.7"/>
<rect x="83.7" y="48.4" width="1" height="1" fill="#fff" opacity="0.7"/>
<rect x="32.8" y="31.9" width="1" height="1" fill="#fff" opacity="0.7"/>
<rect x="69.1" y="36.7" width="1" height="1" fill="#fff" opacity="0.7"/>
<rect x="36.9" y="34.0" width="1" height="1" fill="#fff" opacity="0.7"/>
<rect x="36.7" y="35.7" width="1" height="1" fill="#fff" opacity="0.7"/>
<rect x="33.4" y="31.3" width="1" height="1" fill="#fff" opacity="0.7"/>
<rect x="45.9" y="34.1" width="1" height="1" fill="#fff" opacity="0.7"/>
<rect x="59.3" y="33.7" width="1" height="1" fill="#fff" opacity="0.7"/>
<rect x="44.7" y="29.9" width="1" height="1" fill="#fff" opacity="0.7"/>
<rect x="69.0" y="36.9" width="1" height="1" fill="#fff" opacity="0.7"/>
<rect x="70.4" y="34.7" width="1" height="1" fill="#fff" opacity="0.7"/>
<rect x="49.0" y="30.2" width="1" height="1" fill="#fff" opacity="0.7"/>
<rect x="56.3" y="32.2" width="1" height="1" fill="#fff" opacity="0.7"/>
<rect x="47.2" y="31.3" width="1" height="1" fill="#fff" opacity="0.7"/>
<rect x="58.5" y="33.3" width="1" height="1" fill="#fff" opacity="0.7"/>
<rect x="76.8" y="38.6" width="1" height="1" fill="#fff" opacity="0.7"/>
<rect x="32.0" y="31.3" width="1" height="1" fill="#fff" opacity="0.7"/>
<rect x="69.6" y="33.6" width="1" height="1" fill="#fff" opacity="0.7"/>
<rect x="51.0" y="36.0" width="1" height="1" fill="#fff" opacity="0.7"/>
<rect x="70.9" y="34.9" width="1" height="1" fill="#fff" opacity="0.7"/>
<rect x="49.9" y="31.1" width="1" height="1" fill="#fff" opacity="0.7"/>
<rect x="60.1" y="31.5" width="1" height="1" fill="#fff" opacity="0.7"/>
<rect x="72.9" y="36.1" width="1" height="1" fill="#fff" opacity="0.7"/>
<rect x="79.5" y="44.1" width="1" height="1" fill="#fff" opacity="0.7"/>
<rect x="59.2" y="34.5" width="1" height="1" fill="#fff" opacity="0.7"/>
<rect x="84.6" y="47.7" width="1" height="1" fill="#fff" opacity="0.7"/>
<rect x="77.6" y="41.8" width="1" height="1" fill="#fff" opacity="0.7"/>
<rect x="69.6" y="33.5" width="1" height="1" fill="#fff" opacity="0.7"/>
<rect x="65.7" y="34.7" width="1" height="1" fill="#fff" opacity="0.7"/>
<rect x="53.6" y="31.2" width="1" height="1" fill="#fff" opacity="0.7"/>
<rect x="28.2" y="33.8" width="1" height="1" fill="#fff" opacity="0.7"/>
<rect x="52.7" y="35.6" width="1" height="1" fill="#fff" opacity="0.7"/>
<rect x="79.5" y="41.9" width="1" height="1" fill="#fff" opacity="0.7"/>
<rect x="63.4" y="31.9" width="1" height="1" fill="#fff" opacity="0.7"/>
<rect x="40.0" y="30.3" width="1" height="1" fill="#fff" opacity="0.7"/>
<rect x="81.8" y="45.9" width="1" height="1" fill="#fff" opacity="0.7"/>
<rect x="67.7" y="34.0" width="1" height="1" fill="#fff" opacity="0.7"/>
<rect x="62.1" y="37.9" width="1" height="1" fill="#fff" opacity="0.7"/>
<rect x="70.4" y="36.7" width="1" height="1" fill="#fff" opacity="0.7"/>
<rect x="81.9" y="46.7" width="1" height="1" fill="#fff" opacity="0.7"/>
<rect x="71.4" y="34.9" width="1" height="1" fill="#fff" opacity="0.7"/>
<rect x="28.6" y="30.6" width="1" height="1" fill="#fff" opacity="0.7"/>
<rect x="35.6" y="33.5" width="1" height="1" fill="#fff" opacity="0.7"/>
<rect x="58.2" y="33.4" width="1" height="1" fill="#fff" opacity="0.7"/>
<rect x="44.3" y="33.4" width="1" height="1" fill="#fff" opacity="0.7"/>
<rect x="50.1" y="31.8" width="1" height="1" fill="#fff" opacity="0.7"/>
<rect x="69.2" y="34.3" width="1" height="1" fill="#fff" opacity="0.7"/>
<rect x="57.8" y="31.7" width="1" height="1" fill="#fff" opacity="0.7"/>
<rect x="26.2" y="32.4" width="1" height="1" fill="#fff" opacity="0.7"/>
<rect x="34.6" y="30.9" width="1" height="1" fill="#fff" opacity="0.7"/>
<rect x="38.6" y="30.5" width="1" height="1" fill="#fff" opacity="0.7"/>
<rect x="36.1" y="29.9" width="1" height="1" fill="#fff" opacity="0.7"/>
<rect x="36.1" y="30.2" width="1" height="1" fill="#fff" opacity="0.7"/>
<rect x="27.3" y="32.4" width="1" height="1" fill="#fff" opacity="0.7"/>
<rect x="68.2" y="32.9" width="1" height="1" fill="#fff" opacity="0.7"/>
<rect x="49.8" y="30.6" width="1" height="1" fill="#fff" opacity="0.7"/>
<rect x="39.1" y="30.3" width="1" height="1" fill="#fff" opacity="0.7"/>
<rect x="35.9" y="32.1" width="1" height="1" fill="#fff" opacity="0.7"/>
<rect x="33.4" y="30.7" width="1" height="1" fill="#fff" opacity="0.7"/>
<rect x="42.5" y="33.4" width="1" height="1" fill="#fff" opacity="0.7"/>
<rect x="82.0" y="43.8" width="1" height="1" fill="#fff" opacity="0.7"/>
<rect x="41.9" y="34.8" width="1" height="1" fill="#fff" opacity="0.7"/>
<rect x="46.7" y="30.7" width="1" height="1" fill="#fff" opacity="0.7"/>
<rect x="84.2" y="45.2" width="1" height="1" fill="#fff" opacity="0.7"/>
<rect x="27.8" y="30.6" width="1" height="1" fill="#fff" opacity="0.7"/>
<rect x="28.2" y="31.0" width="1" height="1" fill="#fff" opacity="0.7"/>
<rect x="80.0" y="43.4" width="1" height="1" fill="#fff" opacity="0.7"/>
<rect x="54.6" y="37.4" width="1" height="1" fill="#fff" opacity="0.7"/>
<rect x="82.4" y="43.7" width="1" height="1" fill="#fff" opacity="0.7"/>
<rect x="62.4" y="32.2" width="1" height="1" fill="#fff" opacity="0.7"/>
<rect x="43.6" y="30.7" width="1" height="1" fill="#fff" opacity="0.7"/>
<rect x="49.4" y="32.3" width="1" height="1" fill="#fff" opacity="0.7"/>
<rect x="81.7" y="44.3" width="1" height="1" fill="#fff" opacity="0.7"/>
<rect x="70.0" y="38.1" width="1" height="1" fill="#fff" opacity="0.7"/>
<rect x="81.4" y="44.0" width="1" height="1" fill="#fff" opacity="0.7"/>
<rect x="39.8" y="33.4" width="1" height="1" fill="#fff" opacity="0.7"/>
<rect x="42.2" y="31.2" width="1" height="1" fill="#fff" opacity="0.7"/>
<rect x="62.3" y="34.1" width="1" height="1" fill="#fff" opacity="0.7"/>
<path d="M37,108.8 L42,105 L45.5,104.2 L46,106.5 L43.5,109.8 L39,110.5 Z" fill="#e4502e" filter="url(#b05)"/>
<path d="M40.5,113.5 L44.5,112.8 L43.8,116.2 L41,116.6 Z" fill="#ec7440" filter="url(#b05)"/>
</g>
<line x1="26.5" y1="21.3" x2="26.5" y2="244.8" stroke="#c8c8c8" stroke-width="0.7"/>
<line x1="26.5" y1="21.3" x2="208.8" y2="21.3" stroke="#d0d0d0" stroke-width="0.6"/>
<rect x="35.6" y="45" width="14" height="42" rx="1" fill="none" stroke="#7a6040" stroke-width="0.7"/>
<rect x="163.6" y="26.9" width="34.9" height="15.5" fill="#ffffff" stroke="#555" stroke-width="0.6"/>
<text x="165.6" y="38.6" font-family='"Liberation Sans", sans-serif' font-size="11" font-weight="bold" textLength="30.6" lengthAdjust="spacingAndGlyphs" fill="#333"><tspan font-style="italic">T</tspan> = 6 K</text>
<text transform="translate(24.9,24.8) scale(0.9,1)" font-family='"Liberation Sans", sans-serif' font-size="8.9" text-anchor="end" font-weight="bold" fill="#2a2a2a">10</text>
<line x1="26.5" y1="21.8" x2="28.0" y2="21.8" stroke="#999" stroke-width="0.5"/>
<text transform="translate(24.9,69.4) scale(0.9,1)" font-family='"Liberation Sans", sans-serif' font-size="8.9" text-anchor="end" font-weight="bold" fill="#2a2a2a">5</text>
<line x1="26.5" y1="66.4" x2="28.0" y2="66.4" stroke="#999" stroke-width="0.5"/>
<text transform="translate(24.9,114.0) scale(0.9,1)" font-family='"Liberation Sans", sans-serif' font-size="8.9" text-anchor="end" font-weight="bold" fill="#2a2a2a">0</text>
<line x1="26.5" y1="111.0" x2="28.0" y2="111.0" stroke="#999" stroke-width="0.5"/>
<text transform="translate(24.9,158.6) scale(0.9,1)" font-family='"Liberation Sans", sans-serif' font-size="8.9" text-anchor="end" font-weight="bold" fill="#2a2a2a">-5</text>
<line x1="26.5" y1="155.6" x2="28.0" y2="155.6" stroke="#999" stroke-width="0.5"/>
<text transform="translate(24.9,203.2) scale(0.9,1)" font-family='"Liberation Sans", sans-serif' font-size="8.9" text-anchor="end" font-weight="bold" fill="#2a2a2a">-10</text>
<line x1="26.5" y1="200.2" x2="28.0" y2="200.2" stroke="#999" stroke-width="0.5"/>
<text transform="translate(24.9,247.8) scale(0.9,1)" font-family='"Liberation Sans", sans-serif' font-size="8.9" text-anchor="end" font-weight="bold" fill="#2a2a2a">-15</text>
<line x1="26.5" y1="244.8" x2="28.0" y2="244.8" stroke="#999" stroke-width="0.5"/>
<text x="42.9" y="253.8" font-family='"Liberation Sans", sans-serif' font-size="8.5" text-anchor="middle" font-weight="bold" font-style="normal" fill="#333" >0</text>
<text x="82.35" y="253.8" font-family='"Liberation Sans", sans-serif' font-size="8.5" text-anchor="middle" font-weight="bold" font-style="normal" fill="#333" >1</text>
<text x="121.80000000000001" y="253.8" font-family='"Liberation Sans", sans-serif' font-size="8.5" text-anchor="middle" font-weight="bold" font-style="normal" fill="#333" >2</text>
<text x="161.25" y="253.8" font-family='"Liberation Sans", sans-serif' font-size="8.5" text-anchor="middle" font-weight="bold" font-style="normal" fill="#333" >3</text>
<text x="200.70000000000002" y="253.8" font-family='"Liberation Sans", sans-serif' font-size="8.5" text-anchor="middle" font-weight="bold" font-style="normal" fill="#333" >4</text>
<text x="119" y="265.2" font-family='"Liberation Sans", sans-serif' font-size="8.6" text-anchor="middle" font-weight="bold" font-style="normal" fill="#444" ><tspan font-style="italic">h</tspan> (r.l.u.)</text>
<text transform="translate(14.5,132) rotate(-90)" x="0" y="0" font-family='"Liberation Sans", sans-serif' font-size="8.6" font-weight="bold" text-anchor="middle" fill="#444"><tspan font-style="italic">l</tspan> (r.l.u.)</text>
<rect x="212.6" y="21.5" width="12.4" height="223.3" fill="url(#cb)" stroke="#aaa" stroke-width="0.5"/>
<text transform="translate(229.3,25.7) scale(0.82,1)" font-family='"Liberation Sans", sans-serif' font-size="9.2" font-weight="bold" fill="#2a2a2a">10</text>
<text x="237.7" y="20.0" font-family='"Liberation Sans", sans-serif' font-size="5.6" fill="#2a2a2a">2</text>
<line x1="225" y1="22.6" x2="226.8" y2="22.6" stroke="#888" stroke-width="0.5"/>
<text transform="translate(229.3,81.2) scale(0.82,1)" font-family='"Liberation Sans", sans-serif' font-size="9.2" font-weight="bold" fill="#2a2a2a">10</text>
<text x="237.7" y="75.5" font-family='"Liberation Sans", sans-serif' font-size="5.6" fill="#2a2a2a">1</text>
<line x1="225" y1="78.1" x2="226.8" y2="78.1" stroke="#888" stroke-width="0.5"/>
<text transform="translate(229.3,136.7) scale(0.82,1)" font-family='"Liberation Sans", sans-serif' font-size="9.2" font-weight="bold" fill="#2a2a2a">10</text>
<text x="237.7" y="131.0" font-family='"Liberation Sans", sans-serif' font-size="5.6" fill="#2a2a2a">0</text>
<line x1="225" y1="133.6" x2="226.8" y2="133.6" stroke="#888" stroke-width="0.5"/>
<text transform="translate(229.3,192.2) scale(0.82,1)" font-family='"Liberation Sans", sans-serif' font-size="9.2" font-weight="bold" fill="#2a2a2a">10</text>
<text x="237.7" y="186.5" font-family='"Liberation Sans", sans-serif' font-size="5.6" fill="#2a2a2a">-1</text>
<line x1="225" y1="189.1" x2="226.8" y2="189.1" stroke="#888" stroke-width="0.5"/>
<text transform="translate(229.3,247.7) scale(0.82,1)" font-family='"Liberation Sans", sans-serif' font-size="9.2" font-weight="bold" fill="#2a2a2a">10</text>
<text x="237.7" y="242.0" font-family='"Liberation Sans", sans-serif' font-size="5.6" fill="#2a2a2a">-2</text>
<line x1="225" y1="244.6" x2="226.8" y2="244.6" stroke="#888" stroke-width="0.5"/>
<text transform="translate(257.5,134) rotate(-90)" font-family='"Liberation Sans", sans-serif' font-size="9.6" text-anchor="middle" fill="#222" stroke="#222" stroke-width="0.2">Vanadium Normalized Intensity</text>
<text x="4.6" y="8.9" font-family='"Liberation Sans", sans-serif' font-size="10" text-anchor="start" font-weight="bold" font-style="normal" fill="#111" >a</text>
<text x="259.0" y="8.7" font-family='"Liberation Sans", sans-serif' font-size="9.6" text-anchor="start" font-weight="bold" font-style="normal" fill="#111" >b</text>
<text x="273.8" y="132.8" font-family='"Liberation Sans", sans-serif' font-size="10" text-anchor="start" font-weight="bold" font-style="normal" fill="#111" >c</text>
<text x="274.3" y="213.3" font-family='"Liberation Sans", sans-serif' font-size="9.8" text-anchor="start" font-weight="bold" font-style="normal" fill="#111" >d</text>
<rect x="299.5" y="5.7" width="170.1" height="94.6" fill="none" stroke="#555" stroke-width="0.9"/>
<line x1="299.5" y1="98.4" x2="301.3" y2="98.4" stroke="#555" stroke-width="0.8"/>
<text x="297.3" y="101.60000000000001" font-family='"Liberation Sans", sans-serif' font-size="8.6" text-anchor="end" font-weight="normal" font-style="normal" fill="#222" stroke="#222" stroke-width="0.22" >0</text>
<line x1="299.5" y1="67.4" x2="301.3" y2="67.4" stroke="#555" stroke-width="0.8"/>
<text x="297.3" y="70.60000000000001" font-family='"Liberation Sans", sans-serif' font-size="8.6" text-anchor="end" font-weight="normal" font-style="normal" fill="#222" stroke="#222" stroke-width="0.22" >5</text>
<line x1="299.5" y1="36.4" x2="301.3" y2="36.4" stroke="#555" stroke-width="0.8"/>
<text x="297.3" y="39.60000000000001" font-family='"Liberation Sans", sans-serif' font-size="8.6" text-anchor="end" font-weight="normal" font-style="normal" fill="#222" stroke="#222" stroke-width="0.22" >10</text>
<line x1="299.5" y1="5.4" x2="301.3" y2="5.4" stroke="#555" stroke-width="0.8"/>
<text x="297.3" y="8.600000000000005" font-family='"Liberation Sans", sans-serif' font-size="8.6" text-anchor="end" font-weight="normal" font-style="normal" fill="#222" stroke="#222" stroke-width="0.22" >15</text>
<line x1="311.0" y1="100.3" x2="311.0" y2="98.5" stroke="#555" stroke-width="0.8"/>
<text x="311.0" y="109.6" font-family='"Liberation Sans", sans-serif' font-size="8.6" text-anchor="middle" font-weight="normal" font-style="normal" fill="#222" stroke="#222" stroke-width="0.22" >3</text>
<line x1="347.9" y1="100.3" x2="347.9" y2="98.5" stroke="#555" stroke-width="0.8"/>
<text x="347.9" y="109.6" font-family='"Liberation Sans", sans-serif' font-size="8.6" text-anchor="middle" font-weight="normal" font-style="normal" fill="#222" stroke="#222" stroke-width="0.22" >4</text>
<line x1="384.8" y1="100.3" x2="384.8" y2="98.5" stroke="#555" stroke-width="0.8"/>
<text x="384.8" y="109.6" font-family='"Liberation Sans", sans-serif' font-size="8.6" text-anchor="middle" font-weight="normal" font-style="normal" fill="#222" stroke="#222" stroke-width="0.22" >5</text>
<line x1="421.7" y1="100.3" x2="421.7" y2="98.5" stroke="#555" stroke-width="0.8"/>
<text x="421.7" y="109.6" font-family='"Liberation Sans", sans-serif' font-size="8.6" text-anchor="middle" font-weight="normal" font-style="normal" fill="#222" stroke="#222" stroke-width="0.22" >6</text>
<line x1="458.6" y1="100.3" x2="458.6" y2="98.5" stroke="#555" stroke-width="0.8"/>
<text x="458.6" y="109.6" font-family='"Liberation Sans", sans-serif' font-size="8.6" text-anchor="middle" font-weight="normal" font-style="normal" fill="#222" stroke="#222" stroke-width="0.22" >7</text>
<text x="385.6" y="121.2" font-family='"Liberation Sans", sans-serif' font-size="9.9" text-anchor="middle" font-weight="normal" font-style="normal" fill="#1a1a1a" stroke="#1a1a1a" stroke-width="0.22" >(00<tspan font-style="italic">l</tspan>) (r.l.u.)</text>
<text transform="translate(282.6,54.8) rotate(-90)" font-family='"Liberation Sans", sans-serif' font-size="9.35" text-anchor="middle" fill="#222" stroke="#222" stroke-width="0.22">Intensity (Counts/min.)</text>
<polyline points="331.30,96.83 332.03,96.53 332.77,95.87 333.51,96.63 334.25,96.69 334.99,95.68 335.72,95.69 336.46,96.63 337.20,96.51 337.94,96.68 338.68,96.90 339.41,96.73 340.15,95.64 340.89,96.98 341.63,96.74 342.37,96.72 343.10,96.61 343.84,94.90 344.58,91.79 345.32,86.05 346.06,78.20 346.79,70.06 347.53,67.95 348.27,70.86 349.01,77.71 349.74,87.19 350.48,92.50 351.22,94.97 351.96,96.33 352.70,96.21 353.43,97.02 354.17,96.75 354.91,95.67 355.65,96.88 356.39,95.75 357.12,96.83 357.86,95.62 358.60,96.09 359.34,96.14 360.08,96.89 360.81,97.02 361.55,95.97 362.29,96.84 363.03,96.82 363.77,95.87 364.50,95.80 365.24,97.03 365.98,95.67 366.72,96.30 367.46,96.53 368.19,96.94 368.93,96.52 369.67,95.63 370.41,96.68 371.15,96.90 371.88,96.88 372.62,96.91 373.36,96.57 374.10,95.74 374.84,96.98 375.57,96.81 376.31,95.70 377.05,95.61 377.79,95.64 378.53,96.73 379.26,96.57 380.00,95.68 380.74,96.38 381.48,96.05 382.22,96.63 382.95,97.07 383.69,96.58 384.43,95.98 385.17,95.93 385.91,96.25 386.64,96.41 387.38,96.30 388.12,96.44 388.86,96.30 389.60,95.86 390.33,96.80 391.07,96.21 391.81,95.71 392.55,95.84 393.29,96.83 394.02,95.66 394.76,95.85 395.50,96.85 396.24,96.70 396.98,96.80 397.71,97.02 398.45,95.64 399.19,96.49 399.93,95.80 400.67,96.93 401.40,97.08 402.14,95.80 402.88,95.92 403.62,95.62 404.36,96.08 405.09,96.32 405.83,95.96 406.57,96.96 407.31,96.29 408.05,96.44 408.78,96.88 409.52,96.20 410.26,96.62 411.00,96.34 411.74,96.54 412.47,96.62 413.21,96.56 413.95,96.20 414.69,95.64 415.43,95.70 416.16,95.76 416.90,95.59 417.64,95.68 418.38,92.69 419.12,89.81 419.85,84.31 420.59,78.23 421.33,75.55 422.07,78.46 422.81,83.53 423.54,89.79 424.28,92.71 425.02,95.43 425.76,96.12 426.50,96.25 427.23,95.79 427.97,95.63 428.71,96.31 429.45,96.44 430.19,96.18 430.92,96.99 431.66,96.46 432.40,95.84 433.14,95.94 433.88,97.01 434.61,95.83 435.35,96.53 436.09,95.64 436.83,96.55 437.57,96.78 438.30,96.28 439.04,95.78 439.78,96.46 440.52,95.81 441.26,96.04 441.99,96.56" fill="none" stroke="#111" stroke-width="1.4" stroke-linejoin="round"/>
<polyline points="301.04,95.33 301.77,96.07 302.51,94.83 303.25,96.36 303.99,95.36 304.73,94.63 305.47,94.44 306.20,94.37 306.94,89.99 307.68,79.16 308.42,62.61 309.16,39.36 309.89,18.66 310.63,11.09 311.37,18.60 312.11,39.68 312.85,63.30 313.58,80.22 314.32,90.35 315.06,93.69 315.80,93.82 316.54,96.09 317.27,95.13 318.01,96.17 318.75,96.24 319.49,94.97 320.23,95.88 320.96,96.31 321.70,96.08 322.44,94.98 323.18,95.11 323.92,96.39 324.65,95.90 325.39,94.26 326.13,95.92 326.87,95.16 327.61,95.48 328.34,94.67 329.08,95.07 329.82,94.65 330.56,95.20 331.30,95.87 332.03,95.51 332.77,94.59 333.51,90.28 334.25,87.12 334.99,80.97 335.72,73.08 336.46,72.41 337.20,73.24 337.94,80.83 338.68,86.33 339.41,91.62 340.15,92.92 340.89,94.53 341.63,94.84 342.37,94.61 343.10,94.07 343.84,94.20 344.58,90.83 345.32,85.50 346.06,77.66 346.79,67.02 347.53,62.46 348.27,63.77 349.01,72.73 349.75,81.27 350.48,88.71 351.22,92.24 351.96,95.47 352.70,95.45 353.43,95.27 354.17,96.14 354.91,94.72 355.65,93.30 356.39,91.63 357.12,86.88 357.86,81.29 358.60,76.99 359.34,74.55 360.08,75.24 360.81,81.89 361.55,87.36 362.29,92.38 363.03,94.45 363.77,95.59 364.50,94.22 365.24,94.77 365.98,94.46 366.72,94.21 367.46,95.05 368.19,94.34 368.93,95.22 369.67,95.48 370.41,94.30 371.15,94.40 371.88,94.30 372.62,95.34 373.36,94.69 374.10,95.51 374.84,94.19 375.57,94.36 376.31,95.76 377.05,94.33 377.79,96.00 378.53,96.16 379.26,94.58 380.00,94.78 380.74,91.87 381.48,85.59 382.22,75.54 382.95,58.11 383.69,44.32 384.43,37.79 385.17,44.17 385.91,58.12 386.64,73.96 387.38,86.37 388.12,92.80 388.86,94.77 389.60,95.28 390.33,96.20 391.07,96.07 391.81,94.71 392.55,94.85 393.29,94.24 394.02,94.23 394.76,94.46 395.50,95.58 396.24,96.06 396.98,95.72 397.71,95.38 398.45,95.24 399.19,95.21 399.93,95.61 400.67,94.51 401.40,95.78 402.14,95.38 402.88,94.43 403.62,94.60 404.36,95.69 405.09,95.60 405.83,93.67 406.57,93.81 407.31,90.38 408.05,84.92 408.78,80.26 409.52,78.49 410.26,79.66 411.00,83.20 411.74,86.79 412.47,91.42 413.21,92.63 413.95,94.14 414.69,94.09 415.43,96.29 416.16,95.89 416.90,95.92 417.64,93.85 418.38,91.21 419.12,86.47 419.85,77.86 420.59,71.85 421.33,68.44 422.07,71.51 422.81,77.29 423.54,85.65 424.28,91.39 425.02,94.71 425.76,95.00 426.50,94.91 427.23,94.89 427.97,94.36 428.71,94.55 429.45,95.59 430.19,95.19 430.92,92.18 431.66,89.01 432.40,85.15 433.14,79.86 433.88,77.94 434.61,79.44 435.35,83.51 436.09,88.61 436.83,91.09 437.57,92.84 438.30,93.88 439.04,95.24 439.78,94.90 440.52,94.34 441.26,94.60 441.99,95.07 442.73,95.49 443.47,95.26 444.21,96.03 444.95,96.01 445.68,94.89 446.42,94.20 447.16,95.19 447.90,95.51 448.64,95.63 449.37,95.40 450.11,94.62 450.85,95.40 451.59,94.26 452.33,96.01 453.06,95.44 453.80,94.28 454.54,92.63 455.28,87.51 456.02,80.36 456.75,70.48 457.49,61.87 458.23,58.13 458.97,58.68 459.71,66.38 460.44,76.48 461.18,85.57 461.92,90.25 462.66,92.68 463.40,95.66 464.13,94.79 464.87,95.56 465.61,95.26 466.35,94.42 467.09,94.27 467.82,94.98 468.56,95.98 469.30,94.36" fill="none" stroke="#f01010" stroke-width="1.1" stroke-linejoin="round"/>
<circle cx="301.0" cy="95.3" r="0.8" fill="#e00000"/>
<circle cx="302.5" cy="94.8" r="0.8" fill="#e00000"/>
<circle cx="304.0" cy="95.4" r="0.8" fill="#e00000"/>
<circle cx="305.5" cy="94.4" r="0.8" fill="#e00000"/>
<circle cx="306.9" cy="90.0" r="0.8" fill="#e00000"/>
<circle cx="308.4" cy="62.6" r="0.8" fill="#e00000"/>
<circle cx="309.9" cy="18.7" r="0.8" fill="#e00000"/>
<circle cx="311.4" cy="18.6" r="0.8" fill="#e00000"/>
<circle cx="312.8" cy="63.3" r="0.8" fill="#e00000"/>
<circle cx="314.3" cy="90.4" r="0.8" fill="#e00000"/>
<circle cx="315.8" cy="93.8" r="0.8" fill="#e00000"/>
<circle cx="317.3" cy="95.1" r="0.8" fill="#e00000"/>
<circle cx="318.7" cy="96.2" r="0.8" fill="#e00000"/>
<circle cx="320.2" cy="95.9" r="0.8" fill="#e00000"/>
<circle cx="321.7" cy="96.1" r="0.8" fill="#e00000"/>
<circle cx="323.2" cy="95.1" r="0.8" fill="#e00000"/>
<circle cx="324.7" cy="95.9" r="0.8" fill="#e00000"/>
<circle cx="326.1" cy="95.9" r="0.8" fill="#e00000"/>
<circle cx="327.6" cy="95.5" r="0.8" fill="#e00000"/>
<circle cx="329.1" cy="95.1" r="0.8" fill="#e00000"/>
<circle cx="330.6" cy="95.2" r="0.8" fill="#e00000"/>
<circle cx="332.0" cy="95.5" r="0.8" fill="#e00000"/>
<circle cx="333.5" cy="90.3" r="0.8" fill="#e00000"/>
<circle cx="335.0" cy="81.0" r="0.8" fill="#e00000"/>
<circle cx="336.5" cy="72.4" r="0.8" fill="#e00000"/>
<circle cx="337.9" cy="80.8" r="0.8" fill="#e00000"/>
<circle cx="339.4" cy="91.6" r="0.8" fill="#e00000"/>
<circle cx="340.9" cy="94.5" r="0.8" fill="#e00000"/>
<circle cx="342.4" cy="94.6" r="0.8" fill="#e00000"/>
<circle cx="343.8" cy="94.2" r="0.8" fill="#e00000"/>
<circle cx="345.3" cy="85.5" r="0.8" fill="#e00000"/>
<circle cx="346.8" cy="67.0" r="0.8" fill="#e00000"/>
<circle cx="348.3" cy="63.8" r="0.8" fill="#e00000"/>
<circle cx="349.7" cy="81.3" r="0.8" fill="#e00000"/>
<circle cx="351.2" cy="92.2" r="0.8" fill="#e00000"/>
<circle cx="352.7" cy="95.5" r="0.8" fill="#e00000"/>
<circle cx="354.2" cy="96.1" r="0.8" fill="#e00000"/>
<circle cx="355.6" cy="93.3" r="0.8" fill="#e00000"/>
<circle cx="357.1" cy="86.9" r="0.8" fill="#e00000"/>
<circle cx="358.6" cy="77.0" r="0.8" fill="#e00000"/>
<circle cx="360.1" cy="75.2" r="0.8" fill="#e00000"/>
<circle cx="361.6" cy="87.4" r="0.8" fill="#e00000"/>
<circle cx="363.0" cy="94.5" r="0.8" fill="#e00000"/>
<circle cx="364.5" cy="94.2" r="0.8" fill="#e00000"/>
<circle cx="366.0" cy="94.5" r="0.8" fill="#e00000"/>
<circle cx="367.5" cy="95.0" r="0.8" fill="#e00000"/>
<circle cx="368.9" cy="95.2" r="0.8" fill="#e00000"/>
<circle cx="370.4" cy="94.3" r="0.8" fill="#e00000"/>
<circle cx="371.9" cy="94.3" r="0.8" fill="#e00000"/>
<circle cx="373.4" cy="94.7" r="0.8" fill="#e00000"/>
<circle cx="374.8" cy="94.2" r="0.8" fill="#e00000"/>
<circle cx="376.3" cy="95.8" r="0.8" fill="#e00000"/>
<circle cx="377.8" cy="96.0" r="0.8" fill="#e00000"/>
<circle cx="379.3" cy="94.6" r="0.8" fill="#e00000"/>
<circle cx="380.7" cy="91.9" r="0.8" fill="#e00000"/>
<circle cx="382.2" cy="75.5" r="0.8" fill="#e00000"/>
<circle cx="383.7" cy="44.3" r="0.8" fill="#e00000"/>
<circle cx="385.2" cy="44.2" r="0.8" fill="#e00000"/>
<circle cx="386.6" cy="74.0" r="0.8" fill="#e00000"/>
<circle cx="388.1" cy="92.8" r="0.8" fill="#e00000"/>
<circle cx="389.6" cy="95.3" r="0.8" fill="#e00000"/>
<circle cx="391.1" cy="96.1" r="0.8" fill="#e00000"/>
<circle cx="392.5" cy="94.9" r="0.8" fill="#e00000"/>
<circle cx="394.0" cy="94.2" r="0.8" fill="#e00000"/>
<circle cx="395.5" cy="95.6" r="0.8" fill="#e00000"/>
<circle cx="397.0" cy="95.7" r="0.8" fill="#e00000"/>
<circle cx="398.5" cy="95.2" r="0.8" fill="#e00000"/>
<circle cx="399.9" cy="95.6" r="0.8" fill="#e00000"/>
<circle cx="401.4" cy="95.8" r="0.8" fill="#e00000"/>
<circle cx="402.9" cy="94.4" r="0.8" fill="#e00000"/>
<circle cx="404.4" cy="95.7" r="0.8" fill="#e00000"/>
<circle cx="405.8" cy="93.7" r="0.8" fill="#e00000"/>
<circle cx="407.3" cy="90.4" r="0.8" fill="#e00000"/>
<circle cx="408.8" cy="80.3" r="0.8" fill="#e00000"/>
<circle cx="410.3" cy="79.7" r="0.8" fill="#e00000"/>
<circle cx="411.7" cy="86.8" r="0.8" fill="#e00000"/>
<circle cx="413.2" cy="92.6" r="0.8" fill="#e00000"/>
<circle cx="414.7" cy="94.1" r="0.8" fill="#e00000"/>
<circle cx="416.2" cy="95.9" r="0.8" fill="#e00000"/>
<circle cx="417.6" cy="93.8" r="0.8" fill="#e00000"/>
<circle cx="419.1" cy="86.5" r="0.8" fill="#e00000"/>
<circle cx="420.6" cy="71.8" r="0.8" fill="#e00000"/>
<circle cx="422.1" cy="71.5" r="0.8" fill="#e00000"/>
<circle cx="423.5" cy="85.6" r="0.8" fill="#e00000"/>
<circle cx="425.0" cy="94.7" r="0.8" fill="#e00000"/>
<circle cx="426.5" cy="94.9" r="0.8" fill="#e00000"/>
<circle cx="428.0" cy="94.4" r="0.8" fill="#e00000"/>
<circle cx="429.4" cy="95.6" r="0.8" fill="#e00000"/>
<circle cx="430.9" cy="92.2" r="0.8" fill="#e00000"/>
<circle cx="432.4" cy="85.1" r="0.8" fill="#e00000"/>
<circle cx="433.9" cy="77.9" r="0.8" fill="#e00000"/>
<circle cx="435.4" cy="83.5" r="0.8" fill="#e00000"/>
<circle cx="436.8" cy="91.1" r="0.8" fill="#e00000"/>
<circle cx="438.3" cy="93.9" r="0.8" fill="#e00000"/>
<circle cx="439.8" cy="94.9" r="0.8" fill="#e00000"/>
<circle cx="441.3" cy="94.6" r="0.8" fill="#e00000"/>
<circle cx="442.7" cy="95.5" r="0.8" fill="#e00000"/>
<circle cx="444.2" cy="96.0" r="0.8" fill="#e00000"/>
<circle cx="445.7" cy="94.9" r="0.8" fill="#e00000"/>
<circle cx="447.2" cy="95.2" r="0.8" fill="#e00000"/>
<circle cx="448.6" cy="95.6" r="0.8" fill="#e00000"/>
<circle cx="450.1" cy="94.6" r="0.8" fill="#e00000"/>
<circle cx="451.6" cy="94.3" r="0.8" fill="#e00000"/>
<circle cx="453.1" cy="95.4" r="0.8" fill="#e00000"/>
<circle cx="454.5" cy="92.6" r="0.8" fill="#e00000"/>
<circle cx="456.0" cy="80.4" r="0.8" fill="#e00000"/>
<circle cx="457.5" cy="61.9" r="0.8" fill="#e00000"/>
<circle cx="459.0" cy="58.7" r="0.8" fill="#e00000"/>
<circle cx="460.4" cy="76.5" r="0.8" fill="#e00000"/>
<circle cx="461.9" cy="90.2" r="0.8" fill="#e00000"/>
<circle cx="463.4" cy="95.7" r="0.8" fill="#e00000"/>
<circle cx="464.9" cy="95.6" r="0.8" fill="#e00000"/>
<circle cx="466.3" cy="94.4" r="0.8" fill="#e00000"/>
<circle cx="467.8" cy="95.0" r="0.8" fill="#e00000"/>
<circle cx="469.3" cy="94.4" r="0.8" fill="#e00000"/>
<text x="451.6" y="17.0" font-family='"Liberation Sans", sans-serif' font-size="7.6" text-anchor="middle" font-weight="normal" font-style="normal" fill="#222" stroke="#222" stroke-width="0.22" ><tspan font-style="italic">T</tspan> (K)</text>
<line x1="433.2" y1="23.5" x2="449" y2="23.5" stroke="#f04a4a" stroke-width="1.1"/><circle cx="441" cy="23.5" r="1" fill="#e01010"/>
<line x1="433.2" y1="34.5" x2="449" y2="34.5" stroke="#666" stroke-width="1.2"/><circle cx="441" cy="34.5" r="1" fill="#111"/>
<text x="454.5" y="26.6" font-family='"Liberation Sans", sans-serif' font-size="8.8" text-anchor="start" font-weight="normal" font-style="normal" fill="#222" stroke="#222" stroke-width="0.22" >6</text>
<text x="454.5" y="37.6" font-family='"Liberation Sans", sans-serif' font-size="8.8" text-anchor="start" font-weight="normal" font-style="normal" fill="#222" stroke="#222" stroke-width="0.22" >30</text>
<line x1="315" y1="61.1" x2="380.5" y2="61.1" stroke="#444" stroke-width="0.9"/>
<path d="M312.8,61.1 L317,59.4 L317,62.8 Z" fill="#444"/>
<path d="M382.6,61.1 L378.4,59.4 L378.4,62.8 Z" fill="#444"/>
<line x1="347.9" y1="57.8" x2="347.9" y2="64" stroke="#444" stroke-width="0.8"/>
<line x1="410" y1="66.7" x2="431.5" y2="66.7" stroke="#444" stroke-width="0.9"/>
<path d="M408,66.7 L412,65.1 L412,68.3 Z" fill="#444"/>
<path d="M433.6,66.7 L429.6,65.1 L429.6,68.3 Z" fill="#444"/>
<line x1="421.5" y1="63.8" x2="421.5" y2="69.3" stroke="#444" stroke-width="0.8"/>
<text x="317.5" y="59" font-family='"Liberation Serif", serif' font-size="11" text-anchor="start" font-weight="normal" font-style="normal" fill="#222" >τ<tspan dx="0.6" dy="1.6" font-size="6.5">2</tspan></text>
<text x="369.8" y="58.4" font-family='"Liberation Serif", serif' font-size="11" text-anchor="start" font-weight="normal" font-style="normal" fill="#222" >τ<tspan dx="0.6" dy="1.6" font-size="6.5">2</tspan></text>
<text x="408.6" y="63.6" font-family='"Liberation Serif", serif' font-size="11" text-anchor="start" font-weight="normal" font-style="normal" fill="#222" >τ<tspan dx="0.6" dy="1.6" font-size="6.5">1</tspan></text>
<text x="427.2" y="63.6" font-family='"Liberation Serif", serif' font-size="11" text-anchor="start" font-weight="normal" font-style="normal" fill="#222" >τ<tspan dx="0.6" dy="1.6" font-size="6.5">1</tspan></text>
<line x1="323.1" y1="143.3" x2="447.7" y2="142.6" stroke="#b8b8b8" stroke-width="1.3"/>
<line x1="328.0" y1="150.2" x2="452.9" y2="150.0" stroke="#b8b8b8" stroke-width="1.3"/>
<line x1="324.2" y1="171.4" x2="449.3" y2="170.9" stroke="#b8b8b8" stroke-width="1.3"/>
<line x1="329.0" y1="178.4" x2="453.7" y2="178.4" stroke="#b8b8b8" stroke-width="1.3"/>
<line x1="323.1" y1="143.3" x2="324.2" y2="171.4" stroke="#b8b8b8" stroke-width="1.2"/>
<line x1="328.0" y1="150.2" x2="329.0" y2="178.4" stroke="#b8b8b8" stroke-width="1.2"/>
<line x1="386.7" y1="143.3" x2="387.3" y2="171.1" stroke="#b8b8b8" stroke-width="1.2"/>
<line x1="391.1" y1="150.0" x2="391.6" y2="178.9" stroke="#b8b8b8" stroke-width="1.2"/>
<line x1="447.7" y1="142.6" x2="449.3" y2="170.9" stroke="#b8b8b8" stroke-width="1.2"/>
<line x1="452.9" y1="150.0" x2="453.7" y2="178.4" stroke="#b8b8b8" stroke-width="1.2"/>
<line x1="338.5" y1="155.3" x2="348.5" y2="166.1" stroke="#777" stroke-width="0.8"/>
<line x1="348.5" y1="166.1" x2="367.6" y2="166.4" stroke="#777" stroke-width="0.8"/>
<line x1="367.6" y1="166.4" x2="374.4" y2="155.3" stroke="#777" stroke-width="0.8"/>
<line x1="401.8" y1="166.2" x2="408.4" y2="155.1" stroke="#777" stroke-width="0.8"/>
<line x1="408.4" y1="155.1" x2="427.3" y2="155.1" stroke="#777" stroke-width="0.8"/>
<line x1="427.3" y1="155.1" x2="436.7" y2="166.2" stroke="#777" stroke-width="0.8"/>
<circle cx="338.5" cy="155.3" r="2.1" fill="#fff" stroke="#8a4ad0" stroke-width="1.2"/>
<circle cx="374.4" cy="155.3" r="2.1" fill="#fff" stroke="#8a4ad0" stroke-width="1.2"/>
<circle cx="401.8" cy="166.2" r="2.1" fill="#fff" stroke="#8a4ad0" stroke-width="1.2"/>
<circle cx="436.7" cy="166.2" r="2.1" fill="#fff" stroke="#8a4ad0" stroke-width="1.2"/>
<circle cx="348.5" cy="166.1" r="2.1" fill="#fff" stroke="#2e6e5a" stroke-width="1.2"/>
<circle cx="367.6" cy="166.4" r="2.1" fill="#fff" stroke="#2e6e5a" stroke-width="1.2"/>
<circle cx="408.4" cy="155.1" r="2.1" fill="#fff" stroke="#2e6e5a" stroke-width="1.2"/>
<circle cx="427.3" cy="155.1" r="2.1" fill="#fff" stroke="#2e6e5a" stroke-width="1.2"/>
<circle cx="323.1" cy="143.3" r="3.3" fill="#fff4d0" stroke="#d8ac18" stroke-width="1.8"/>
<circle cx="328.0" cy="150.2" r="3.3" fill="#fff4d0" stroke="#d8ac18" stroke-width="1.8"/>
<circle cx="324.2" cy="171.4" r="3.3" fill="#fff4d0" stroke="#d8ac18" stroke-width="1.8"/>
<circle cx="329.0" cy="178.4" r="3.3" fill="#fff4d0" stroke="#d8ac18" stroke-width="1.8"/>
<circle cx="386.7" cy="143.3" r="3.3" fill="#fff4d0" stroke="#d8ac18" stroke-width="1.8"/>
<circle cx="391.1" cy="150.0" r="3.3" fill="#fff4d0" stroke="#d8ac18" stroke-width="1.8"/>
<circle cx="387.3" cy="171.1" r="3.3" fill="#fff4d0" stroke="#d8ac18" stroke-width="1.8"/>
<circle cx="391.6" cy="178.9" r="3.3" fill="#fff4d0" stroke="#d8ac18" stroke-width="1.8"/>
<circle cx="447.7" cy="142.6" r="3.3" fill="#fff4d0" stroke="#d8ac18" stroke-width="1.8"/>
<circle cx="452.9" cy="150.0" r="3.3" fill="#fff4d0" stroke="#d8ac18" stroke-width="1.8"/>
<circle cx="449.3" cy="170.9" r="3.3" fill="#fff4d0" stroke="#d8ac18" stroke-width="1.8"/>
<circle cx="453.7" cy="178.4" r="3.3" fill="#fff4d0" stroke="#d8ac18" stroke-width="1.8"/>
<text x="332" y="137.3" font-family='"Liberation Sans", sans-serif' font-size="9.8" text-anchor="middle" font-weight="bold" font-style="italic" fill="#80703a" >Eu</text>
<text x="343.4" y="158.8" font-family='"Liberation Sans", sans-serif' font-size="9.8" text-anchor="start" font-weight="normal" font-style="italic" fill="#8a5ad8" stroke="#8a5ad8" stroke-width="0.22" >In</text>
<text x="370.8" y="169.9" font-family='"Liberation Sans", sans-serif' font-size="9.4" text-anchor="start" font-weight="bold" font-style="italic" fill="#2e7058" >As</text>
<line x1="298.5" y1="177" x2="298.5" y2="164" stroke="#666" stroke-width="1"/><path d="M298.5,159.8 L296.6,165.2 L300.4,165.2 Z" fill="#222"/>
<line x1="298.5" y1="177" x2="311.5" y2="177" stroke="#e4906c" stroke-width="1"/><path d="M316.2,177 L310.6,175 L310.6,179 Z" fill="#c84a18"/>
<line x1="298.5" y1="177" x2="302.5" y2="181.2" stroke="#333" stroke-width="1"/><path d="M305.6,184.6 L300.4,182.6 L303.6,179.4 Z" fill="#111"/>
<text x="298.6" y="160.4" font-family='"Liberation Serif", serif' font-size="11.5" text-anchor="start" font-weight="normal" font-style="normal" fill="#222" >a</text>
<text x="316.6" y="184.6" font-family='"Liberation Serif", serif' font-size="11.5" text-anchor="start" font-weight="normal" font-style="normal" fill="#c84a18" >c</text>
<text x="305.4" y="190.6" font-family='"Liberation Serif", serif' font-size="11.5" text-anchor="start" font-weight="normal" font-style="normal" fill="#222" >b</text>
<circle cx="327.6" cy="192.6" r="7.1" fill="none" stroke="#e090a8" stroke-width="1.05"/>
<text x="327.6" y="196.5" font-family='"Liberation Sans", sans-serif' font-size="11" text-anchor="middle" fill="#c03060" stroke="#c03060" stroke-width="0.35">1</text>
<circle cx="391.1" cy="193.3" r="7.1" fill="none" stroke="#e090a8" stroke-width="1.05"/>
<text x="391.1" y="197.2" font-family='"Liberation Sans", sans-serif' font-size="11" text-anchor="middle" fill="#c03060" stroke="#c03060" stroke-width="0.35">2</text>
<circle cx="453.7" cy="193.0" r="7.1" fill="none" stroke="#9090d8" stroke-width="1.05"/>
<text x="453.7" y="196.9" font-family='"Liberation Sans", sans-serif' font-size="11" text-anchor="middle" fill="#4040b0" stroke="#4040b0" stroke-width="0.35">3</text>
<line x1="282.8" y1="232.2" x2="473.29999999999995" y2="232.2" stroke="#222" stroke-width="1.2" stroke-dasharray="2.8,1.7"/>
<path d="M282.8,232.2 L290.5,219.1 L305.9,219.1 L313.6,232.2 L305.9,245.3 L290.5,245.3 Z" fill="none" stroke="#222" stroke-width="1.4" stroke-linejoin="round"/>
<line x1="290.5" y1="219.1" x2="305.9" y2="245.3" stroke="#222" stroke-width="1.1" stroke-dasharray="2.5,1.6"/>
<line x1="305.9" y1="219.1" x2="290.5" y2="245.3" stroke="#222" stroke-width="1.1" stroke-dasharray="2.5,1.6"/>
<path d="M314.7,232.2 L322.4,219.1 L337.8,219.1 L345.5,232.2 L337.8,245.3 L322.4,245.3 Z" fill="none" stroke="#222" stroke-width="1.4" stroke-linejoin="round"/>
<line x1="322.4" y1="219.1" x2="337.8" y2="245.3" stroke="#222" stroke-width="1.1" stroke-dasharray="2.5,1.6"/>
<line x1="337.8" y1="219.1" x2="322.4" y2="245.3" stroke="#222" stroke-width="1.1" stroke-dasharray="2.5,1.6"/>
<path d="M346.7,232.2 L354.4,219.1 L369.8,219.1 L377.5,232.2 L369.8,245.3 L354.4,245.3 Z" fill="none" stroke="#222" stroke-width="1.4" stroke-linejoin="round"/>
<line x1="354.4" y1="219.1" x2="369.8" y2="245.3" stroke="#222" stroke-width="1.1" stroke-dasharray="2.5,1.6"/>
<line x1="369.8" y1="219.1" x2="354.4" y2="245.3" stroke="#222" stroke-width="1.1" stroke-dasharray="2.5,1.6"/>
<path d="M378.6,232.2 L386.3,219.1 L401.7,219.1 L409.4,232.2 L401.7,245.3 L386.3,245.3 Z" fill="none" stroke="#222" stroke-width="1.4" stroke-linejoin="round"/>
<line x1="386.3" y1="219.1" x2="401.7" y2="245.3" stroke="#222" stroke-width="1.1" stroke-dasharray="2.5,1.6"/>
<line x1="401.7" y1="219.1" x2="386.3" y2="245.3" stroke="#222" stroke-width="1.1" stroke-dasharray="2.5,1.6"/>
<path d="M410.6,232.2 L418.3,219.1 L433.7,219.1 L441.4,232.2 L433.7,245.3 L418.3,245.3 Z" fill="none" stroke="#222" stroke-width="1.4" stroke-linejoin="round"/>
<line x1="418.3" y1="219.1" x2="433.7" y2="245.3" stroke="#222" stroke-width="1.1" stroke-dasharray="2.5,1.6"/>
<line x1="433.7" y1="219.1" x2="418.3" y2="245.3" stroke="#222" stroke-width="1.1" stroke-dasharray="2.5,1.6"/>
<path d="M442.5,232.2 L450.2,219.1 L465.6,219.1 L473.3,232.2 L465.6,245.3 L450.2,245.3 Z" fill="none" stroke="#222" stroke-width="1.4" stroke-linejoin="round"/>
<line x1="450.2" y1="219.1" x2="465.6" y2="245.3" stroke="#222" stroke-width="1.1" stroke-dasharray="2.5,1.6"/>
<line x1="465.6" y1="219.1" x2="450.2" y2="245.3" stroke="#222" stroke-width="1.1" stroke-dasharray="2.5,1.6"/>
<line x1="298.2" y1="232.2" x2="305.8" y2="235.3" stroke="#c8204a" stroke-width="1.3"/>
<path d="M311.8,237.8 L305.2,236.8 L306.4,233.8 Z" fill="#c8204a"/>
<line x1="330.1" y1="232.2" x2="329.0" y2="239.6" stroke="#c8204a" stroke-width="1.3"/>
<path d="M328.0,246.0 L327.4,239.3 L330.6,239.8 Z" fill="#c8204a"/>
<line x1="362.1" y1="232.2" x2="368.6" y2="228.6" stroke="#2838b8" stroke-width="1.3"/>
<path d="M374.3,225.5 L369.4,230.0 L367.8,227.2 Z" fill="#2838b8"/>
<line x1="394.0" y1="232.2" x2="387.2" y2="229.7" stroke="#c8204a" stroke-width="1.3"/>
<path d="M381.1,227.5 L387.8,228.2 L386.7,231.2 Z" fill="#c8204a"/>
<line x1="426.0" y1="232.2" x2="427.6" y2="224.8" stroke="#c8204a" stroke-width="1.3"/>
<path d="M428.9,218.4 L429.1,225.1 L426.0,224.4 Z" fill="#c8204a"/>
<line x1="457.9" y1="232.2" x2="451.2" y2="235.8" stroke="#2838b8" stroke-width="1.3"/>
<path d="M445.5,238.9 L450.5,234.4 L452.0,237.2 Z" fill="#2838b8"/>
<circle cx="298.5" cy="258.3" r="7.1" fill="none" stroke="#e090a8" stroke-width="1.05"/>
<text x="298.5" y="262.2" font-family='"Liberation Sans", sans-serif' font-size="11" text-anchor="middle" fill="#c03060" stroke="#c03060" stroke-width="0.35">1</text>
<circle cx="330.40000000000003" cy="258.3" r="7.1" fill="none" stroke="#e090a8" stroke-width="1.05"/>
<text x="330.40000000000003" y="262.2" font-family='"Liberation Sans", sans-serif' font-size="11" text-anchor="middle" fill="#c03060" stroke="#c03060" stroke-width="0.35">2</text>
<circle cx="362.40000000000003" cy="258.3" r="7.1" fill="none" stroke="#9090d8" stroke-width="1.05"/>
<text x="362.40000000000003" y="262.2" font-family='"Liberation Sans", sans-serif' font-size="11" text-anchor="middle" fill="#4040b0" stroke="#4040b0" stroke-width="0.35">3</text>
<circle cx="394.3" cy="258.3" r="7.1" fill="none" stroke="#e090a8" stroke-width="1.05"/>
<text x="394.3" y="262.2" font-family='"Liberation Sans", sans-serif' font-size="11" text-anchor="middle" fill="#c03060" stroke="#c03060" stroke-width="0.35">4</text>
<circle cx="426.3" cy="258.3" r="7.1" fill="none" stroke="#e090a8" stroke-width="1.05"/>
<text x="426.3" y="262.2" font-family='"Liberation Sans", sans-serif' font-size="11" text-anchor="middle" fill="#c03060" stroke="#c03060" stroke-width="0.35">5</text>
<circle cx="458.2" cy="258.3" r="7.1" fill="none" stroke="#9090d8" stroke-width="1.05"/>
<text x="458.2" y="262.2" font-family='"Liberation Sans", sans-serif' font-size="11" text-anchor="middle" fill="#4040b0" stroke="#4040b0" stroke-width="0.35">6</text>
<rect x="0" y="0" width="480" height="1.2" fill="#e8e8e8"/>
</svg></body></html>
